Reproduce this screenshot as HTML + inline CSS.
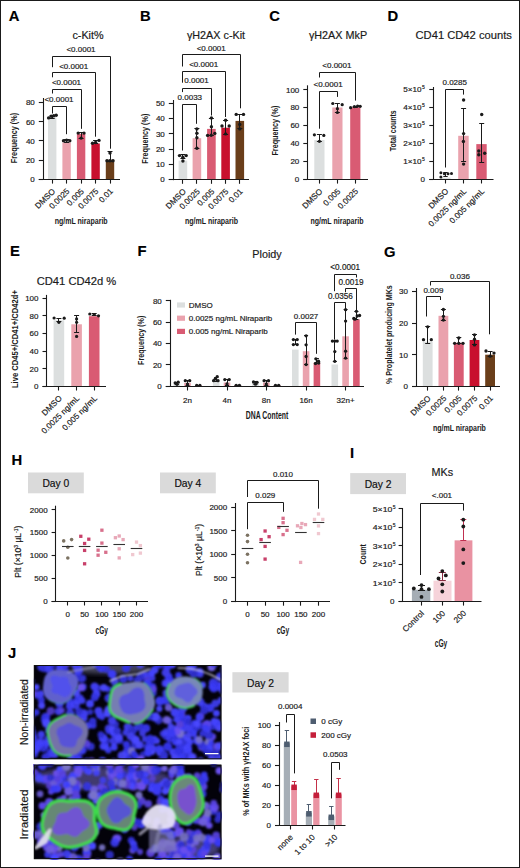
<!DOCTYPE html>
<html><head><meta charset="utf-8"><style>
html,body{margin:0;padding:0;background:#fff;}
body{width:520px;height:868px;overflow:hidden;}
svg{display:block;font-family:"Liberation Sans",sans-serif;}

</style></head><body>
<svg width="520" height="868" viewBox="0 0 520 868" fill="#1a1a1a">
<defs><filter id="blur1" x="-5%" y="-5%" width="110%" height="110%"><feGaussianBlur stdDeviation="0.9"/></filter><filter id="blur2" x="-10%" y="-10%" width="120%" height="120%"><feGaussianBlur stdDeviation="1.1"/></filter><filter id="blur3" x="-20%" y="-20%" width="140%" height="140%"><feGaussianBlur stdDeviation="2.5"/></filter></defs>
<rect x="0" y="0" width="520" height="868" fill="#fff"/>
<text x="8.70" y="21.39" font-size="14.8" font-weight="bold" fill="#000" stroke="#000" stroke-width="0.15">A</text>
<text x="88.00" y="39.39" font-size="10.8" text-anchor="middle" stroke="#1a1a1a" stroke-width="0.18">c-Kit%</text>
<rect x="48.00" y="117.20" width="8.40" height="62.20" fill="#dcdfdf"/>
<rect x="62.40" y="142.50" width="8.40" height="36.90" fill="#eaa2ad"/>
<rect x="76.90" y="133.80" width="8.40" height="45.60" fill="#d95b73"/>
<rect x="91.40" y="143.50" width="8.40" height="35.90" fill="#c8102e"/>
<rect x="105.80" y="159.80" width="8.40" height="19.60" fill="#6a3e1a"/>
<line x1="52.50" y1="118.50" x2="52.50" y2="115.50" stroke="#1a1a1a" stroke-width="1.0"/>
<line x1="49.70" y1="115.50" x2="54.70" y2="115.50" stroke="#1a1a1a" stroke-width="1.0"/>
<line x1="49.70" y1="118.50" x2="54.70" y2="118.50" stroke="#1a1a1a" stroke-width="1.0"/>
<circle cx="48.60" cy="117.90" r="1.7" fill="#1a1a1a"/>
<circle cx="51.20" cy="116.30" r="1.7" fill="#1a1a1a"/>
<circle cx="53.80" cy="115.70" r="1.7" fill="#1a1a1a"/>
<circle cx="56.20" cy="115.20" r="1.7" fill="#1a1a1a"/>
<line x1="66.50" y1="142.50" x2="66.50" y2="139.50" stroke="#1a1a1a" stroke-width="1.0"/>
<line x1="64.10" y1="139.50" x2="69.10" y2="139.50" stroke="#1a1a1a" stroke-width="1.0"/>
<line x1="64.10" y1="142.50" x2="69.10" y2="142.50" stroke="#1a1a1a" stroke-width="1.0"/>
<circle cx="63.50" cy="140.80" r="1.7" fill="#1a1a1a"/>
<circle cx="66.60" cy="140.20" r="1.7" fill="#1a1a1a"/>
<circle cx="69.80" cy="140.80" r="1.7" fill="#1a1a1a"/>
<line x1="81.50" y1="138.00" x2="81.50" y2="132.00" stroke="#1a1a1a" stroke-width="1.0"/>
<line x1="78.60" y1="132.50" x2="83.60" y2="132.50" stroke="#1a1a1a" stroke-width="1.0"/>
<line x1="78.60" y1="138.50" x2="83.60" y2="138.50" stroke="#1a1a1a" stroke-width="1.0"/>
<circle cx="78.20" cy="133.10" r="1.7" fill="#1a1a1a"/>
<circle cx="84.00" cy="133.10" r="1.7" fill="#1a1a1a"/>
<circle cx="81.10" cy="138.10" r="1.7" fill="#1a1a1a"/>
<line x1="95.50" y1="143.50" x2="95.50" y2="140.30" stroke="#1a1a1a" stroke-width="1.0"/>
<line x1="93.10" y1="140.50" x2="98.10" y2="140.50" stroke="#1a1a1a" stroke-width="1.0"/>
<line x1="93.10" y1="143.50" x2="98.10" y2="143.50" stroke="#1a1a1a" stroke-width="1.0"/>
<circle cx="92.50" cy="143.30" r="1.7" fill="#1a1a1a"/>
<circle cx="95.60" cy="142.50" r="1.7" fill="#1a1a1a"/>
<circle cx="99.00" cy="140.40" r="1.7" fill="#1a1a1a"/>
<line x1="110.50" y1="161.00" x2="110.50" y2="151.80" stroke="#1a1a1a" stroke-width="1.0"/>
<line x1="107.50" y1="151.50" x2="112.50" y2="151.50" stroke="#1a1a1a" stroke-width="1.0"/>
<line x1="107.50" y1="161.50" x2="112.50" y2="161.50" stroke="#1a1a1a" stroke-width="1.0"/>
<circle cx="110.00" cy="153.00" r="1.7" fill="#1a1a1a"/>
<circle cx="107.00" cy="160.80" r="1.7" fill="#1a1a1a"/>
<circle cx="110.00" cy="160.80" r="1.7" fill="#1a1a1a"/>
<circle cx="113.00" cy="160.80" r="1.7" fill="#1a1a1a"/>
<line x1="43.50" y1="98.00" x2="43.50" y2="180.00" stroke="#1a1a1a" stroke-width="1.1"/>
<line x1="38.80" y1="179.50" x2="43.00" y2="179.50" stroke="#1a1a1a" stroke-width="1.1"/>
<text x="34.80" y="182.28" font-size="8" text-anchor="end" stroke="#1a1a1a" stroke-width="0.18">0</text>
<line x1="38.80" y1="160.50" x2="43.00" y2="160.50" stroke="#1a1a1a" stroke-width="1.1"/>
<text x="34.80" y="163.03" font-size="8" text-anchor="end" stroke="#1a1a1a" stroke-width="0.18">20</text>
<line x1="38.80" y1="140.50" x2="43.00" y2="140.50" stroke="#1a1a1a" stroke-width="1.1"/>
<text x="34.80" y="143.78" font-size="8" text-anchor="end" stroke="#1a1a1a" stroke-width="0.18">40</text>
<line x1="38.80" y1="121.50" x2="43.00" y2="121.50" stroke="#1a1a1a" stroke-width="1.1"/>
<text x="34.80" y="124.53" font-size="8" text-anchor="end" stroke="#1a1a1a" stroke-width="0.18">60</text>
<line x1="38.80" y1="102.50" x2="43.00" y2="102.50" stroke="#1a1a1a" stroke-width="1.1"/>
<text x="34.80" y="105.28" font-size="8" text-anchor="end" stroke="#1a1a1a" stroke-width="0.18">80</text>
<line x1="38.80" y1="179.50" x2="120.00" y2="179.50" stroke="#1a1a1a" stroke-width="1.1"/>
<line x1="52.50" y1="179.40" x2="52.50" y2="183.60" stroke="#1a1a1a" stroke-width="1.1"/>
<line x1="66.50" y1="179.40" x2="66.50" y2="183.60" stroke="#1a1a1a" stroke-width="1.1"/>
<line x1="81.50" y1="179.40" x2="81.50" y2="183.60" stroke="#1a1a1a" stroke-width="1.1"/>
<line x1="95.50" y1="179.40" x2="95.50" y2="183.60" stroke="#1a1a1a" stroke-width="1.1"/>
<line x1="110.50" y1="179.40" x2="110.50" y2="183.60" stroke="#1a1a1a" stroke-width="1.1"/>
<text x="55.70" y="191.90" font-size="8.2" text-anchor="end" transform="rotate(-45 55.70 191.90)" stroke="#1a1a1a" stroke-width="0.18">DMSO</text>
<text x="70.10" y="191.90" font-size="8.2" text-anchor="end" transform="rotate(-45 70.10 191.90)" stroke="#1a1a1a" stroke-width="0.18">0.0025</text>
<text x="84.60" y="191.90" font-size="8.2" text-anchor="end" transform="rotate(-45 84.60 191.90)" stroke="#1a1a1a" stroke-width="0.18">0.005</text>
<text x="99.10" y="191.90" font-size="8.2" text-anchor="end" transform="rotate(-45 99.10 191.90)" stroke="#1a1a1a" stroke-width="0.18">0.0075</text>
<text x="113.50" y="191.90" font-size="8.2" text-anchor="end" transform="rotate(-45 113.50 191.90)" stroke="#1a1a1a" stroke-width="0.18">0.01</text>
<text x="81.15" y="224.10" font-size="9.2" text-anchor="middle" font-weight="bold" textLength="53.00" lengthAdjust="spacingAndGlyphs">ng/mL niraparib</text>
<text x="17.42" y="138.00" font-size="9.5" text-anchor="middle" font-weight="bold" transform="rotate(-90 17.42 138.00)" textLength="50.50" lengthAdjust="spacingAndGlyphs">Frequency (%)</text>
<polyline points="52.50,67.20 52.50,56.50 110.50,56.50 110.50,148.70" fill="none" stroke="#1a1a1a" stroke-width="1.0"/>
<text x="81.00" y="51.70" font-size="8" text-anchor="middle" stroke="#1a1a1a" stroke-width="0.18">&lt;0.0001</text>
<polyline points="52.50,77.30 52.50,72.50 95.50,72.50 95.50,136.70" fill="none" stroke="#1a1a1a" stroke-width="1.0"/>
<text x="73.70" y="68.60" font-size="8" text-anchor="middle" stroke="#1a1a1a" stroke-width="0.18">&lt;0.0001</text>
<polyline points="52.50,93.50 52.50,89.50 81.50,89.50 81.50,128.80" fill="none" stroke="#1a1a1a" stroke-width="1.0"/>
<text x="66.50" y="85.20" font-size="8" text-anchor="middle" stroke="#1a1a1a" stroke-width="0.18">&lt;0.0001</text>
<polyline points="52.50,113.50 52.50,106.50 66.50,106.50 66.50,134.20" fill="none" stroke="#1a1a1a" stroke-width="1.0"/>
<text x="59.00" y="102.20" font-size="8" text-anchor="middle" stroke="#1a1a1a" stroke-width="0.18">&lt;0.0001</text>
<text x="140.10" y="21.39" font-size="14.8" font-weight="bold" fill="#000" stroke="#000" stroke-width="0.15">B</text>
<text x="216.00" y="39.39" font-size="10.8" text-anchor="middle" stroke="#1a1a1a" stroke-width="0.18">γH2AX c-Kit</text>
<rect x="178.60" y="160.60" width="8.60" height="19.00" fill="#dcdfdf"/>
<rect x="192.60" y="138.20" width="8.60" height="41.40" fill="#eaa2ad"/>
<rect x="207.10" y="128.90" width="8.60" height="50.70" fill="#d95b73"/>
<rect x="221.30" y="127.70" width="8.60" height="51.90" fill="#c8102e"/>
<rect x="235.50" y="120.90" width="8.60" height="58.70" fill="#6a3e1a"/>
<line x1="182.50" y1="158.50" x2="182.50" y2="154.80" stroke="#1a1a1a" stroke-width="1.0"/>
<line x1="180.40" y1="154.50" x2="185.40" y2="154.50" stroke="#1a1a1a" stroke-width="1.0"/>
<line x1="180.40" y1="158.50" x2="185.40" y2="158.50" stroke="#1a1a1a" stroke-width="1.0"/>
<circle cx="179.50" cy="155.60" r="1.7" fill="#1a1a1a"/>
<circle cx="186.20" cy="155.60" r="1.7" fill="#1a1a1a"/>
<circle cx="182.90" cy="157.20" r="1.7" fill="#1a1a1a"/>
<circle cx="182.90" cy="161.00" r="1.7" fill="#1a1a1a"/>
<line x1="196.50" y1="148.30" x2="196.50" y2="128.50" stroke="#1a1a1a" stroke-width="1.0"/>
<line x1="194.40" y1="128.50" x2="199.40" y2="128.50" stroke="#1a1a1a" stroke-width="1.0"/>
<line x1="194.40" y1="148.50" x2="199.40" y2="148.50" stroke="#1a1a1a" stroke-width="1.0"/>
<circle cx="196.90" cy="129.00" r="1.7" fill="#1a1a1a"/>
<circle cx="196.90" cy="133.20" r="1.7" fill="#1a1a1a"/>
<circle cx="196.90" cy="137.80" r="1.7" fill="#1a1a1a"/>
<circle cx="196.90" cy="148.30" r="1.7" fill="#1a1a1a"/>
<line x1="211.50" y1="135.00" x2="211.50" y2="118.00" stroke="#1a1a1a" stroke-width="1.0"/>
<line x1="208.90" y1="118.50" x2="213.90" y2="118.50" stroke="#1a1a1a" stroke-width="1.0"/>
<line x1="208.90" y1="135.50" x2="213.90" y2="135.50" stroke="#1a1a1a" stroke-width="1.0"/>
<circle cx="211.40" cy="118.00" r="1.7" fill="#1a1a1a"/>
<circle cx="211.40" cy="126.70" r="1.7" fill="#1a1a1a"/>
<circle cx="207.60" cy="135.40" r="1.7" fill="#1a1a1a"/>
<circle cx="214.80" cy="133.40" r="1.7" fill="#1a1a1a"/>
<circle cx="211.20" cy="135.20" r="1.7" fill="#1a1a1a"/>
<line x1="225.50" y1="134.00" x2="225.50" y2="120.20" stroke="#1a1a1a" stroke-width="1.0"/>
<line x1="223.10" y1="120.50" x2="228.10" y2="120.50" stroke="#1a1a1a" stroke-width="1.0"/>
<line x1="223.10" y1="134.50" x2="228.10" y2="134.50" stroke="#1a1a1a" stroke-width="1.0"/>
<circle cx="225.60" cy="120.20" r="1.7" fill="#1a1a1a"/>
<circle cx="222.00" cy="126.00" r="1.7" fill="#1a1a1a"/>
<circle cx="229.20" cy="126.00" r="1.7" fill="#1a1a1a"/>
<circle cx="225.60" cy="133.90" r="1.7" fill="#1a1a1a"/>
<line x1="239.50" y1="128.90" x2="239.50" y2="114.20" stroke="#1a1a1a" stroke-width="1.0"/>
<line x1="237.30" y1="114.50" x2="242.30" y2="114.50" stroke="#1a1a1a" stroke-width="1.0"/>
<line x1="237.30" y1="128.50" x2="242.30" y2="128.50" stroke="#1a1a1a" stroke-width="1.0"/>
<circle cx="236.20" cy="114.40" r="1.7" fill="#1a1a1a"/>
<circle cx="243.50" cy="114.40" r="1.7" fill="#1a1a1a"/>
<circle cx="239.80" cy="124.50" r="1.7" fill="#1a1a1a"/>
<circle cx="239.80" cy="128.90" r="1.7" fill="#1a1a1a"/>
<line x1="173.50" y1="100.00" x2="173.50" y2="180.20" stroke="#1a1a1a" stroke-width="1.1"/>
<line x1="168.80" y1="179.50" x2="173.00" y2="179.50" stroke="#1a1a1a" stroke-width="1.1"/>
<text x="164.80" y="182.48" font-size="8" text-anchor="end" stroke="#1a1a1a" stroke-width="0.18">0</text>
<line x1="168.80" y1="164.50" x2="173.00" y2="164.50" stroke="#1a1a1a" stroke-width="1.1"/>
<text x="164.80" y="167.18" font-size="8" text-anchor="end" stroke="#1a1a1a" stroke-width="0.18">10</text>
<line x1="168.80" y1="149.50" x2="173.00" y2="149.50" stroke="#1a1a1a" stroke-width="1.1"/>
<text x="164.80" y="151.88" font-size="8" text-anchor="end" stroke="#1a1a1a" stroke-width="0.18">20</text>
<line x1="168.80" y1="133.50" x2="173.00" y2="133.50" stroke="#1a1a1a" stroke-width="1.1"/>
<text x="164.80" y="136.58" font-size="8" text-anchor="end" stroke="#1a1a1a" stroke-width="0.18">30</text>
<line x1="168.80" y1="118.50" x2="173.00" y2="118.50" stroke="#1a1a1a" stroke-width="1.1"/>
<text x="164.80" y="121.28" font-size="8" text-anchor="end" stroke="#1a1a1a" stroke-width="0.18">40</text>
<line x1="168.80" y1="103.50" x2="173.00" y2="103.50" stroke="#1a1a1a" stroke-width="1.1"/>
<text x="164.80" y="105.98" font-size="8" text-anchor="end" stroke="#1a1a1a" stroke-width="0.18">50</text>
<line x1="168.80" y1="179.50" x2="249.00" y2="179.50" stroke="#1a1a1a" stroke-width="1.1"/>
<line x1="182.50" y1="179.60" x2="182.50" y2="183.80" stroke="#1a1a1a" stroke-width="1.1"/>
<line x1="196.50" y1="179.60" x2="196.50" y2="183.80" stroke="#1a1a1a" stroke-width="1.1"/>
<line x1="211.50" y1="179.60" x2="211.50" y2="183.80" stroke="#1a1a1a" stroke-width="1.1"/>
<line x1="225.50" y1="179.60" x2="225.50" y2="183.80" stroke="#1a1a1a" stroke-width="1.1"/>
<line x1="239.50" y1="179.60" x2="239.50" y2="183.80" stroke="#1a1a1a" stroke-width="1.1"/>
<text x="186.40" y="192.10" font-size="8.2" text-anchor="end" transform="rotate(-45 186.40 192.10)" stroke="#1a1a1a" stroke-width="0.18">DMSO</text>
<text x="200.40" y="192.10" font-size="8.2" text-anchor="end" transform="rotate(-45 200.40 192.10)" stroke="#1a1a1a" stroke-width="0.18">0.0025</text>
<text x="214.90" y="192.10" font-size="8.2" text-anchor="end" transform="rotate(-45 214.90 192.10)" stroke="#1a1a1a" stroke-width="0.18">0.005</text>
<text x="229.10" y="192.10" font-size="8.2" text-anchor="end" transform="rotate(-45 229.10 192.10)" stroke="#1a1a1a" stroke-width="0.18">0.0075</text>
<text x="243.30" y="192.10" font-size="8.2" text-anchor="end" transform="rotate(-45 243.30 192.10)" stroke="#1a1a1a" stroke-width="0.18">0.01</text>
<text x="211.50" y="224.10" font-size="9.2" text-anchor="middle" font-weight="bold" textLength="53.00" lengthAdjust="spacingAndGlyphs">ng/mL niraparib</text>
<text x="147.52" y="138.70" font-size="9.5" text-anchor="middle" font-weight="bold" transform="rotate(-90 147.52 138.70)" textLength="50.20" lengthAdjust="spacingAndGlyphs">Frequency (%)</text>
<polyline points="182.50,66.50 182.50,54.50 240.50,54.50 240.50,108.30" fill="none" stroke="#1a1a1a" stroke-width="1.0"/>
<text x="211.20" y="51.00" font-size="8" text-anchor="middle" stroke="#1a1a1a" stroke-width="0.18">&lt;0.0001</text>
<polyline points="182.50,82.70 182.50,71.50 225.50,71.50 225.50,117.00" fill="none" stroke="#1a1a1a" stroke-width="1.0"/>
<text x="203.70" y="67.20" font-size="8" text-anchor="middle" stroke="#1a1a1a" stroke-width="0.18">&lt;0.0001</text>
<polyline points="182.50,92.10 182.50,88.50 211.50,88.50 211.50,115.50" fill="none" stroke="#1a1a1a" stroke-width="1.0"/>
<text x="196.50" y="83.40" font-size="8" text-anchor="middle" stroke="#1a1a1a" stroke-width="0.18">0.0001</text>
<polyline points="182.50,150.50 182.50,104.50 196.50,104.50 196.50,123.80" fill="none" stroke="#1a1a1a" stroke-width="1.0"/>
<text x="189.80" y="100.20" font-size="8" text-anchor="middle" stroke="#1a1a1a" stroke-width="0.18">0.0033</text>
<text x="269.30" y="20.89" font-size="14.8" font-weight="bold" fill="#000" stroke="#000" stroke-width="0.15">C</text>
<text x="338.00" y="39.39" font-size="10.8" text-anchor="middle" stroke="#1a1a1a" stroke-width="0.18">γH2AX MkP</text>
<rect x="314.30" y="140.00" width="10.20" height="39.40" fill="#dcdfdf"/>
<rect x="332.30" y="107.50" width="10.20" height="71.90" fill="#eaa2ad"/>
<rect x="350.20" y="107.30" width="10.20" height="72.10" fill="#d95b73"/>
<line x1="319.50" y1="141.30" x2="319.50" y2="134.60" stroke="#1a1a1a" stroke-width="1.0"/>
<line x1="316.90" y1="134.50" x2="321.90" y2="134.50" stroke="#1a1a1a" stroke-width="1.0"/>
<line x1="316.90" y1="141.50" x2="321.90" y2="141.50" stroke="#1a1a1a" stroke-width="1.0"/>
<circle cx="314.40" cy="134.80" r="1.6" fill="#1a1a1a"/>
<circle cx="323.80" cy="135.40" r="1.6" fill="#1a1a1a"/>
<circle cx="319.40" cy="141.30" r="1.6" fill="#1a1a1a"/>
<line x1="337.50" y1="112.50" x2="337.50" y2="103.10" stroke="#1a1a1a" stroke-width="1.0"/>
<line x1="334.90" y1="103.50" x2="339.90" y2="103.50" stroke="#1a1a1a" stroke-width="1.0"/>
<line x1="334.90" y1="112.50" x2="339.90" y2="112.50" stroke="#1a1a1a" stroke-width="1.0"/>
<circle cx="332.80" cy="103.50" r="1.6" fill="#1a1a1a"/>
<circle cx="342.20" cy="104.70" r="1.6" fill="#1a1a1a"/>
<circle cx="337.40" cy="112.50" r="1.6" fill="#1a1a1a"/>
<circle cx="337.40" cy="108.70" r="1.6" fill="#1a1a1a"/>
<line x1="355.50" y1="107.50" x2="355.50" y2="106.30" stroke="#1a1a1a" stroke-width="1.0"/>
<line x1="352.80" y1="106.50" x2="357.80" y2="106.50" stroke="#1a1a1a" stroke-width="1.0"/>
<line x1="352.80" y1="107.50" x2="357.80" y2="107.50" stroke="#1a1a1a" stroke-width="1.0"/>
<circle cx="350.60" cy="107.70" r="1.6" fill="#1a1a1a"/>
<circle cx="354.40" cy="106.60" r="1.6" fill="#1a1a1a"/>
<circle cx="357.60" cy="106.00" r="1.6" fill="#1a1a1a"/>
<circle cx="360.20" cy="106.30" r="1.6" fill="#1a1a1a"/>
<line x1="307.50" y1="85.30" x2="307.50" y2="180.00" stroke="#1a1a1a" stroke-width="1.1"/>
<line x1="303.30" y1="179.50" x2="307.50" y2="179.50" stroke="#1a1a1a" stroke-width="1.1"/>
<text x="299.30" y="182.28" font-size="8" text-anchor="end" stroke="#1a1a1a" stroke-width="0.18">0</text>
<line x1="303.30" y1="161.50" x2="307.50" y2="161.50" stroke="#1a1a1a" stroke-width="1.1"/>
<text x="299.30" y="164.33" font-size="8" text-anchor="end" stroke="#1a1a1a" stroke-width="0.18">20</text>
<line x1="303.30" y1="143.50" x2="307.50" y2="143.50" stroke="#1a1a1a" stroke-width="1.1"/>
<text x="299.30" y="146.38" font-size="8" text-anchor="end" stroke="#1a1a1a" stroke-width="0.18">40</text>
<line x1="303.30" y1="125.50" x2="307.50" y2="125.50" stroke="#1a1a1a" stroke-width="1.1"/>
<text x="299.30" y="128.43" font-size="8" text-anchor="end" stroke="#1a1a1a" stroke-width="0.18">60</text>
<line x1="303.30" y1="107.50" x2="307.50" y2="107.50" stroke="#1a1a1a" stroke-width="1.1"/>
<text x="299.30" y="110.48" font-size="8" text-anchor="end" stroke="#1a1a1a" stroke-width="0.18">80</text>
<line x1="303.30" y1="89.50" x2="307.50" y2="89.50" stroke="#1a1a1a" stroke-width="1.1"/>
<text x="299.30" y="92.53" font-size="8" text-anchor="end" stroke="#1a1a1a" stroke-width="0.18">100</text>
<line x1="303.30" y1="179.50" x2="368.00" y2="179.50" stroke="#1a1a1a" stroke-width="1.1"/>
<line x1="319.50" y1="179.40" x2="319.50" y2="183.60" stroke="#1a1a1a" stroke-width="1.1"/>
<line x1="337.50" y1="179.40" x2="337.50" y2="183.60" stroke="#1a1a1a" stroke-width="1.1"/>
<line x1="355.50" y1="179.40" x2="355.50" y2="183.60" stroke="#1a1a1a" stroke-width="1.1"/>
<text x="322.90" y="191.90" font-size="8.2" text-anchor="end" transform="rotate(-45 322.90 191.90)" stroke="#1a1a1a" stroke-width="0.18">DMSO</text>
<text x="340.90" y="191.90" font-size="8.2" text-anchor="end" transform="rotate(-45 340.90 191.90)" stroke="#1a1a1a" stroke-width="0.18">0.005</text>
<text x="358.80" y="191.90" font-size="8.2" text-anchor="end" transform="rotate(-45 358.80 191.90)" stroke="#1a1a1a" stroke-width="0.18">0.0025</text>
<text x="337.00" y="224.10" font-size="9.2" text-anchor="middle" font-weight="bold" textLength="53.00" lengthAdjust="spacingAndGlyphs">ng/mL niraparib</text>
<text x="277.72" y="130.60" font-size="9.5" text-anchor="middle" font-weight="bold" transform="rotate(-90 277.72 130.60)" textLength="50.00" lengthAdjust="spacingAndGlyphs">Frequency (%)</text>
<polyline points="319.50,77.50 319.50,72.50 355.50,72.50 355.50,100.60" fill="none" stroke="#1a1a1a" stroke-width="1.0"/>
<text x="336.90" y="67.60" font-size="8" text-anchor="middle" stroke="#1a1a1a" stroke-width="0.18">&lt;0.0001</text>
<polyline points="319.50,128.70 319.50,91.50 337.50,91.50 337.50,96.90" fill="none" stroke="#1a1a1a" stroke-width="1.0"/>
<text x="328.10" y="87.00" font-size="8" text-anchor="middle" stroke="#1a1a1a" stroke-width="0.18">&lt;0.0001</text>
<text x="387.50" y="21.39" font-size="14.8" font-weight="bold" fill="#000" stroke="#000" stroke-width="0.15">D</text>
<text x="463.70" y="39.33" font-size="11.2" text-anchor="middle" stroke="#1a1a1a" stroke-width="0.18">CD41 CD42 counts</text>
<rect x="440.50" y="177.60" width="10.00" height="1.70" fill="#dcdfdf"/>
<rect x="458.20" y="135.80" width="10.50" height="43.50" fill="#eaa2ad"/>
<rect x="476.30" y="144.10" width="10.40" height="35.20" fill="#d95b73"/>
<line x1="445.50" y1="176.50" x2="445.50" y2="172.60" stroke="#1a1a1a" stroke-width="1.0"/>
<line x1="443.30" y1="172.50" x2="447.70" y2="172.50" stroke="#1a1a1a" stroke-width="1.0"/>
<line x1="443.30" y1="176.50" x2="447.70" y2="176.50" stroke="#1a1a1a" stroke-width="1.0"/>
<circle cx="440.90" cy="172.80" r="1.5" fill="#1a1a1a"/>
<circle cx="444.40" cy="173.80" r="1.5" fill="#1a1a1a"/>
<circle cx="448.00" cy="173.80" r="1.5" fill="#1a1a1a"/>
<circle cx="451.50" cy="173.40" r="1.5" fill="#1a1a1a"/>
<circle cx="440.90" cy="177.00" r="1.5" fill="#1a1a1a"/>
<line x1="463.50" y1="161.40" x2="463.50" y2="108.20" stroke="#1a1a1a" stroke-width="1.0"/>
<line x1="461.10" y1="108.50" x2="466.10" y2="108.50" stroke="#1a1a1a" stroke-width="1.0"/>
<line x1="461.10" y1="161.50" x2="466.10" y2="161.50" stroke="#1a1a1a" stroke-width="1.0"/>
<circle cx="463.60" cy="100.00" r="1.7" fill="#1a1a1a"/>
<circle cx="463.60" cy="133.60" r="1.7" fill="#1a1a1a"/>
<circle cx="463.40" cy="141.50" r="1.7" fill="#1a1a1a"/>
<circle cx="463.60" cy="164.10" r="1.7" fill="#1a1a1a"/>
<line x1="481.50" y1="162.50" x2="481.50" y2="123.80" stroke="#1a1a1a" stroke-width="1.0"/>
<line x1="479.20" y1="123.50" x2="484.20" y2="123.50" stroke="#1a1a1a" stroke-width="1.0"/>
<line x1="479.20" y1="162.50" x2="484.20" y2="162.50" stroke="#1a1a1a" stroke-width="1.0"/>
<circle cx="481.70" cy="114.50" r="1.7" fill="#1a1a1a"/>
<circle cx="478.80" cy="151.00" r="1.7" fill="#1a1a1a"/>
<circle cx="478.80" cy="154.80" r="1.7" fill="#1a1a1a"/>
<circle cx="484.70" cy="153.20" r="1.7" fill="#1a1a1a"/>
<line x1="433.50" y1="87.00" x2="433.50" y2="179.90" stroke="#1a1a1a" stroke-width="1.1"/>
<line x1="429.30" y1="179.50" x2="433.50" y2="179.50" stroke="#1a1a1a" stroke-width="1.1"/>
<line x1="429.30" y1="161.50" x2="433.50" y2="161.50" stroke="#1a1a1a" stroke-width="1.1"/>
<line x1="429.30" y1="143.50" x2="433.50" y2="143.50" stroke="#1a1a1a" stroke-width="1.1"/>
<line x1="429.30" y1="125.50" x2="433.50" y2="125.50" stroke="#1a1a1a" stroke-width="1.1"/>
<line x1="429.30" y1="107.50" x2="433.50" y2="107.50" stroke="#1a1a1a" stroke-width="1.1"/>
<line x1="429.30" y1="89.50" x2="433.50" y2="89.50" stroke="#1a1a1a" stroke-width="1.1"/>
<text x="421.50" y="164.10" font-size="7.8" text-anchor="end" textLength="18.30" lengthAdjust="spacingAndGlyphs" stroke="#1a1a1a" stroke-width="0.18">1×10</text>
<text x="421.90" y="160.90" font-size="5" text-anchor="start" stroke="#1a1a1a" stroke-width="0.18">5</text>
<text x="421.50" y="146.10" font-size="7.8" text-anchor="end" textLength="18.30" lengthAdjust="spacingAndGlyphs" stroke="#1a1a1a" stroke-width="0.18">2×10</text>
<text x="421.90" y="142.90" font-size="5" text-anchor="start" stroke="#1a1a1a" stroke-width="0.18">5</text>
<text x="421.50" y="128.10" font-size="7.8" text-anchor="end" textLength="18.30" lengthAdjust="spacingAndGlyphs" stroke="#1a1a1a" stroke-width="0.18">3×10</text>
<text x="421.90" y="124.90" font-size="5" text-anchor="start" stroke="#1a1a1a" stroke-width="0.18">5</text>
<text x="421.50" y="110.10" font-size="7.8" text-anchor="end" textLength="18.30" lengthAdjust="spacingAndGlyphs" stroke="#1a1a1a" stroke-width="0.18">4×10</text>
<text x="421.90" y="106.90" font-size="5" text-anchor="start" stroke="#1a1a1a" stroke-width="0.18">5</text>
<text x="421.50" y="92.10" font-size="7.8" text-anchor="end" textLength="18.30" lengthAdjust="spacingAndGlyphs" stroke="#1a1a1a" stroke-width="0.18">5×10</text>
<text x="421.90" y="88.90" font-size="5" text-anchor="start" stroke="#1a1a1a" stroke-width="0.18">5</text>
<text x="425.00" y="182.20" font-size="8" text-anchor="end" stroke="#1a1a1a" stroke-width="0.18">0</text>
<line x1="429.30" y1="179.50" x2="493.50" y2="179.50" stroke="#1a1a1a" stroke-width="1.1"/>
<line x1="445.50" y1="179.30" x2="445.50" y2="183.50" stroke="#1a1a1a" stroke-width="1.1"/>
<line x1="463.50" y1="179.30" x2="463.50" y2="183.50" stroke="#1a1a1a" stroke-width="1.1"/>
<line x1="481.50" y1="179.30" x2="481.50" y2="183.50" stroke="#1a1a1a" stroke-width="1.1"/>
<text x="449.00" y="191.80" font-size="8.2" text-anchor="end" transform="rotate(-45 449.00 191.80)" stroke="#1a1a1a" stroke-width="0.18">DMSO</text>
<text x="467.10" y="191.80" font-size="8.2" text-anchor="end" transform="rotate(-45 467.10 191.80)" stroke="#1a1a1a" stroke-width="0.18">0.0025 ng/mL</text>
<text x="485.00" y="191.80" font-size="8.2" text-anchor="end" transform="rotate(-45 485.00 191.80)" stroke="#1a1a1a" stroke-width="0.18">0.005 ng/mL</text>
<text x="396.42" y="130.80" font-size="9.5" text-anchor="middle" font-weight="bold" transform="rotate(-90 396.42 130.80)" textLength="41.00" lengthAdjust="spacingAndGlyphs">Total counts</text>
<polyline points="445.50,167.50 445.50,89.50 463.50,89.50 463.50,94.60" fill="none" stroke="#1a1a1a" stroke-width="1.0"/>
<text x="454.70" y="84.50" font-size="8" text-anchor="middle" stroke="#1a1a1a" stroke-width="0.18">0.0285</text>
<text x="10.10" y="256.39" font-size="14.8" font-weight="bold" fill="#000" stroke="#000" stroke-width="0.15">E</text>
<text x="76.50" y="285.03" font-size="11.2" text-anchor="middle" stroke="#1a1a1a" stroke-width="0.18">CD41 CD42d %</text>
<rect x="53.60" y="320.30" width="10.60" height="66.00" fill="#dcdfdf"/>
<rect x="71.30" y="324.30" width="10.60" height="62.00" fill="#eaa2ad"/>
<rect x="88.90" y="316.20" width="10.60" height="70.10" fill="#d95b73"/>
<line x1="58.50" y1="321.50" x2="58.50" y2="318.30" stroke="#1a1a1a" stroke-width="1.0"/>
<line x1="56.40" y1="318.50" x2="61.40" y2="318.50" stroke="#1a1a1a" stroke-width="1.0"/>
<line x1="56.40" y1="321.50" x2="61.40" y2="321.50" stroke="#1a1a1a" stroke-width="1.0"/>
<circle cx="54.10" cy="318.00" r="1.6" fill="#1a1a1a"/>
<circle cx="64.20" cy="318.20" r="1.6" fill="#1a1a1a"/>
<circle cx="58.90" cy="322.30" r="1.6" fill="#1a1a1a"/>
<line x1="76.50" y1="332.40" x2="76.50" y2="315.30" stroke="#1a1a1a" stroke-width="1.0"/>
<line x1="74.10" y1="315.50" x2="79.10" y2="315.50" stroke="#1a1a1a" stroke-width="1.0"/>
<line x1="74.10" y1="332.50" x2="79.10" y2="332.50" stroke="#1a1a1a" stroke-width="1.0"/>
<circle cx="76.60" cy="318.90" r="1.6" fill="#1a1a1a"/>
<circle cx="76.60" cy="322.30" r="1.6" fill="#1a1a1a"/>
<circle cx="76.60" cy="336.40" r="1.6" fill="#1a1a1a"/>
<line x1="94.50" y1="315.50" x2="94.50" y2="313.60" stroke="#1a1a1a" stroke-width="1.0"/>
<line x1="91.70" y1="313.50" x2="96.70" y2="313.50" stroke="#1a1a1a" stroke-width="1.0"/>
<line x1="91.70" y1="315.50" x2="96.70" y2="315.50" stroke="#1a1a1a" stroke-width="1.0"/>
<circle cx="89.80" cy="314.00" r="1.6" fill="#1a1a1a"/>
<circle cx="94.20" cy="314.50" r="1.6" fill="#1a1a1a"/>
<circle cx="98.50" cy="315.80" r="1.6" fill="#1a1a1a"/>
<line x1="46.50" y1="294.90" x2="46.50" y2="386.90" stroke="#1a1a1a" stroke-width="1.1"/>
<line x1="42.50" y1="386.50" x2="46.70" y2="386.50" stroke="#1a1a1a" stroke-width="1.1"/>
<text x="38.50" y="389.18" font-size="8" text-anchor="end" stroke="#1a1a1a" stroke-width="0.18">0</text>
<line x1="42.50" y1="368.50" x2="46.70" y2="368.50" stroke="#1a1a1a" stroke-width="1.1"/>
<text x="38.50" y="371.59" font-size="8" text-anchor="end" stroke="#1a1a1a" stroke-width="0.18">20</text>
<line x1="42.50" y1="351.50" x2="46.70" y2="351.50" stroke="#1a1a1a" stroke-width="1.1"/>
<text x="38.50" y="354.00" font-size="8" text-anchor="end" stroke="#1a1a1a" stroke-width="0.18">40</text>
<line x1="42.50" y1="333.50" x2="46.70" y2="333.50" stroke="#1a1a1a" stroke-width="1.1"/>
<text x="38.50" y="336.41" font-size="8" text-anchor="end" stroke="#1a1a1a" stroke-width="0.18">60</text>
<line x1="42.50" y1="315.50" x2="46.70" y2="315.50" stroke="#1a1a1a" stroke-width="1.1"/>
<text x="38.50" y="318.82" font-size="8" text-anchor="end" stroke="#1a1a1a" stroke-width="0.18">80</text>
<line x1="42.50" y1="298.50" x2="46.70" y2="298.50" stroke="#1a1a1a" stroke-width="1.1"/>
<text x="38.50" y="301.23" font-size="8" text-anchor="end" stroke="#1a1a1a" stroke-width="0.18">100</text>
<line x1="42.50" y1="386.50" x2="106.00" y2="386.50" stroke="#1a1a1a" stroke-width="1.1"/>
<line x1="58.50" y1="386.30" x2="58.50" y2="390.50" stroke="#1a1a1a" stroke-width="1.1"/>
<line x1="76.50" y1="386.30" x2="76.50" y2="390.50" stroke="#1a1a1a" stroke-width="1.1"/>
<line x1="94.50" y1="386.30" x2="94.50" y2="390.50" stroke="#1a1a1a" stroke-width="1.1"/>
<text x="62.40" y="398.80" font-size="8.2" text-anchor="end" transform="rotate(-45 62.40 398.80)" stroke="#1a1a1a" stroke-width="0.18">DMSO</text>
<text x="80.10" y="398.80" font-size="8.2" text-anchor="end" transform="rotate(-45 80.10 398.80)" stroke="#1a1a1a" stroke-width="0.18">0.0025 ng/mL</text>
<text x="97.70" y="398.80" font-size="8.2" text-anchor="end" transform="rotate(-45 97.70 398.80)" stroke="#1a1a1a" stroke-width="0.18">0.005 ng/mL</text>
<text x="17.62" y="339.10" font-size="9.5" text-anchor="middle" font-weight="bold" transform="rotate(-90 17.62 339.10)" textLength="98.00" lengthAdjust="spacingAndGlyphs">Live CD45+/CD41+/CD42d+</text>
<text x="137.50" y="256.39" font-size="14.8" font-weight="bold" fill="#000" stroke="#000" stroke-width="0.15">F</text>
<text x="267.00" y="257.69" font-size="10.8" text-anchor="middle" stroke="#1a1a1a" stroke-width="0.18">Ploidy</text>
<line x1="170.50" y1="299.80" x2="170.50" y2="386.90" stroke="#1a1a1a" stroke-width="1.1"/>
<line x1="165.80" y1="386.50" x2="170.00" y2="386.50" stroke="#1a1a1a" stroke-width="1.1"/>
<text x="161.80" y="389.18" font-size="8" text-anchor="end" stroke="#1a1a1a" stroke-width="0.18">0</text>
<line x1="165.80" y1="364.50" x2="170.00" y2="364.50" stroke="#1a1a1a" stroke-width="1.1"/>
<text x="161.80" y="367.78" font-size="8" text-anchor="end" stroke="#1a1a1a" stroke-width="0.18">20</text>
<line x1="165.80" y1="343.50" x2="170.00" y2="343.50" stroke="#1a1a1a" stroke-width="1.1"/>
<text x="161.80" y="346.38" font-size="8" text-anchor="end" stroke="#1a1a1a" stroke-width="0.18">40</text>
<line x1="165.80" y1="322.50" x2="170.00" y2="322.50" stroke="#1a1a1a" stroke-width="1.1"/>
<text x="161.80" y="324.98" font-size="8" text-anchor="end" stroke="#1a1a1a" stroke-width="0.18">60</text>
<line x1="165.80" y1="300.50" x2="170.00" y2="300.50" stroke="#1a1a1a" stroke-width="1.1"/>
<text x="161.80" y="303.58" font-size="8" text-anchor="end" stroke="#1a1a1a" stroke-width="0.18">80</text>
<rect x="173.40" y="383.50" width="6.60" height="2.80" fill="#dcdfdf"/>
<rect x="184.20" y="383.00" width="6.60" height="3.30" fill="#eaa2ad"/>
<rect x="195.00" y="385.30" width="6.60" height="1.00" fill="#d95b73"/>
<rect x="212.90" y="379.50" width="6.60" height="6.80" fill="#dcdfdf"/>
<rect x="223.70" y="382.50" width="6.60" height="3.80" fill="#eaa2ad"/>
<rect x="234.50" y="385.00" width="6.60" height="1.30" fill="#d95b73"/>
<rect x="252.20" y="382.50" width="6.60" height="3.80" fill="#dcdfdf"/>
<rect x="263.00" y="382.50" width="6.60" height="3.80" fill="#eaa2ad"/>
<rect x="273.80" y="385.20" width="6.60" height="1.10" fill="#d95b73"/>
<rect x="292.00" y="349.60" width="6.60" height="36.70" fill="#dcdfdf"/>
<rect x="302.80" y="351.20" width="6.60" height="35.10" fill="#eaa2ad"/>
<rect x="313.60" y="362.70" width="6.60" height="23.60" fill="#d95b73"/>
<rect x="331.50" y="364.50" width="6.60" height="21.80" fill="#dcdfdf"/>
<rect x="342.30" y="336.30" width="6.60" height="50.00" fill="#eaa2ad"/>
<rect x="353.10" y="319.40" width="6.60" height="66.90" fill="#d95b73"/>
<line x1="176.50" y1="384.50" x2="176.50" y2="382.00" stroke="#1a1a1a" stroke-width="1.0"/>
<line x1="174.70" y1="382.50" x2="178.70" y2="382.50" stroke="#1a1a1a" stroke-width="1.0"/>
<line x1="174.70" y1="384.50" x2="178.70" y2="384.50" stroke="#1a1a1a" stroke-width="1.0"/>
<line x1="187.50" y1="385.50" x2="187.50" y2="380.70" stroke="#1a1a1a" stroke-width="1.0"/>
<line x1="185.50" y1="380.50" x2="189.50" y2="380.50" stroke="#1a1a1a" stroke-width="1.0"/>
<line x1="185.50" y1="385.50" x2="189.50" y2="385.50" stroke="#1a1a1a" stroke-width="1.0"/>
<line x1="198.50" y1="386.00" x2="198.50" y2="385.00" stroke="#1a1a1a" stroke-width="1.0"/>
<line x1="196.30" y1="385.50" x2="200.30" y2="385.50" stroke="#1a1a1a" stroke-width="1.0"/>
<line x1="196.30" y1="386.50" x2="200.30" y2="386.50" stroke="#1a1a1a" stroke-width="1.0"/>
<line x1="216.50" y1="381.00" x2="216.50" y2="377.00" stroke="#1a1a1a" stroke-width="1.0"/>
<line x1="214.20" y1="377.50" x2="218.20" y2="377.50" stroke="#1a1a1a" stroke-width="1.0"/>
<line x1="214.20" y1="381.50" x2="218.20" y2="381.50" stroke="#1a1a1a" stroke-width="1.0"/>
<line x1="227.50" y1="385.50" x2="227.50" y2="379.60" stroke="#1a1a1a" stroke-width="1.0"/>
<line x1="225.00" y1="379.50" x2="229.00" y2="379.50" stroke="#1a1a1a" stroke-width="1.0"/>
<line x1="225.00" y1="385.50" x2="229.00" y2="385.50" stroke="#1a1a1a" stroke-width="1.0"/>
<line x1="237.50" y1="386.00" x2="237.50" y2="385.00" stroke="#1a1a1a" stroke-width="1.0"/>
<line x1="235.80" y1="385.50" x2="239.80" y2="385.50" stroke="#1a1a1a" stroke-width="1.0"/>
<line x1="235.80" y1="386.50" x2="239.80" y2="386.50" stroke="#1a1a1a" stroke-width="1.0"/>
<line x1="255.50" y1="384.00" x2="255.50" y2="381.50" stroke="#1a1a1a" stroke-width="1.0"/>
<line x1="253.50" y1="381.50" x2="257.50" y2="381.50" stroke="#1a1a1a" stroke-width="1.0"/>
<line x1="253.50" y1="384.50" x2="257.50" y2="384.50" stroke="#1a1a1a" stroke-width="1.0"/>
<line x1="266.50" y1="385.50" x2="266.50" y2="380.50" stroke="#1a1a1a" stroke-width="1.0"/>
<line x1="264.30" y1="380.50" x2="268.30" y2="380.50" stroke="#1a1a1a" stroke-width="1.0"/>
<line x1="264.30" y1="385.50" x2="268.30" y2="385.50" stroke="#1a1a1a" stroke-width="1.0"/>
<line x1="277.50" y1="386.00" x2="277.50" y2="385.00" stroke="#1a1a1a" stroke-width="1.0"/>
<line x1="275.10" y1="385.50" x2="279.10" y2="385.50" stroke="#1a1a1a" stroke-width="1.0"/>
<line x1="275.10" y1="386.50" x2="279.10" y2="386.50" stroke="#1a1a1a" stroke-width="1.0"/>
<line x1="295.50" y1="344.60" x2="295.50" y2="339.60" stroke="#1a1a1a" stroke-width="1.0"/>
<line x1="293.30" y1="339.50" x2="297.30" y2="339.50" stroke="#1a1a1a" stroke-width="1.0"/>
<line x1="293.30" y1="344.50" x2="297.30" y2="344.50" stroke="#1a1a1a" stroke-width="1.0"/>
<line x1="306.50" y1="364.60" x2="306.50" y2="335.80" stroke="#1a1a1a" stroke-width="1.0"/>
<line x1="304.10" y1="335.50" x2="308.10" y2="335.50" stroke="#1a1a1a" stroke-width="1.0"/>
<line x1="304.10" y1="364.50" x2="308.10" y2="364.50" stroke="#1a1a1a" stroke-width="1.0"/>
<line x1="316.50" y1="363.50" x2="316.50" y2="358.80" stroke="#1a1a1a" stroke-width="1.0"/>
<line x1="314.90" y1="358.50" x2="318.90" y2="358.50" stroke="#1a1a1a" stroke-width="1.0"/>
<line x1="314.90" y1="363.50" x2="318.90" y2="363.50" stroke="#1a1a1a" stroke-width="1.0"/>
<line x1="334.50" y1="361.30" x2="334.50" y2="341.10" stroke="#1a1a1a" stroke-width="1.0"/>
<line x1="332.80" y1="341.50" x2="336.80" y2="341.50" stroke="#1a1a1a" stroke-width="1.0"/>
<line x1="332.80" y1="361.50" x2="336.80" y2="361.50" stroke="#1a1a1a" stroke-width="1.0"/>
<line x1="345.50" y1="358.10" x2="345.50" y2="309.70" stroke="#1a1a1a" stroke-width="1.0"/>
<line x1="343.60" y1="309.50" x2="347.60" y2="309.50" stroke="#1a1a1a" stroke-width="1.0"/>
<line x1="343.60" y1="358.50" x2="347.60" y2="358.50" stroke="#1a1a1a" stroke-width="1.0"/>
<line x1="356.50" y1="319.00" x2="356.50" y2="311.30" stroke="#1a1a1a" stroke-width="1.0"/>
<line x1="354.40" y1="311.50" x2="358.40" y2="311.50" stroke="#1a1a1a" stroke-width="1.0"/>
<line x1="354.40" y1="319.50" x2="358.40" y2="319.50" stroke="#1a1a1a" stroke-width="1.0"/>
<circle cx="175.20" cy="382.80" r="1.65" fill="#1a1a1a"/>
<circle cx="178.20" cy="382.20" r="1.65" fill="#1a1a1a"/>
<circle cx="177.00" cy="384.30" r="1.65" fill="#1a1a1a"/>
<circle cx="185.30" cy="380.70" r="1.65" fill="#1a1a1a"/>
<circle cx="189.70" cy="380.70" r="1.65" fill="#1a1a1a"/>
<circle cx="187.50" cy="384.10" r="1.65" fill="#1a1a1a"/>
<circle cx="196.70" cy="385.40" r="1.65" fill="#1a1a1a"/>
<circle cx="199.90" cy="385.40" r="1.65" fill="#1a1a1a"/>
<circle cx="217.20" cy="376.70" r="1.65" fill="#1a1a1a"/>
<circle cx="215.20" cy="378.90" r="1.65" fill="#1a1a1a"/>
<circle cx="213.60" cy="380.70" r="1.65" fill="#1a1a1a"/>
<circle cx="218.00" cy="380.70" r="1.65" fill="#1a1a1a"/>
<circle cx="224.80" cy="379.60" r="1.65" fill="#1a1a1a"/>
<circle cx="229.20" cy="379.60" r="1.65" fill="#1a1a1a"/>
<circle cx="227.00" cy="384.00" r="1.65" fill="#1a1a1a"/>
<circle cx="236.20" cy="385.30" r="1.65" fill="#1a1a1a"/>
<circle cx="239.40" cy="385.30" r="1.65" fill="#1a1a1a"/>
<circle cx="253.50" cy="382.00" r="1.65" fill="#1a1a1a"/>
<circle cx="257.00" cy="382.30" r="1.65" fill="#1a1a1a"/>
<circle cx="255.50" cy="384.20" r="1.65" fill="#1a1a1a"/>
<circle cx="264.10" cy="380.70" r="1.65" fill="#1a1a1a"/>
<circle cx="268.50" cy="380.70" r="1.65" fill="#1a1a1a"/>
<circle cx="266.30" cy="384.10" r="1.65" fill="#1a1a1a"/>
<circle cx="275.50" cy="385.30" r="1.65" fill="#1a1a1a"/>
<circle cx="278.70" cy="385.30" r="1.65" fill="#1a1a1a"/>
<circle cx="293.40" cy="339.60" r="1.65" fill="#1a1a1a"/>
<circle cx="297.20" cy="339.60" r="1.65" fill="#1a1a1a"/>
<circle cx="293.40" cy="344.60" r="1.65" fill="#1a1a1a"/>
<circle cx="297.20" cy="344.60" r="1.65" fill="#1a1a1a"/>
<circle cx="306.10" cy="335.80" r="1.65" fill="#1a1a1a"/>
<circle cx="306.10" cy="344.80" r="1.65" fill="#1a1a1a"/>
<circle cx="306.10" cy="356.50" r="1.65" fill="#1a1a1a"/>
<circle cx="306.10" cy="364.60" r="1.65" fill="#1a1a1a"/>
<circle cx="315.90" cy="358.80" r="1.65" fill="#1a1a1a"/>
<circle cx="318.50" cy="361.20" r="1.65" fill="#1a1a1a"/>
<circle cx="315.50" cy="363.50" r="1.65" fill="#1a1a1a"/>
<circle cx="318.70" cy="363.00" r="1.65" fill="#1a1a1a"/>
<circle cx="332.40" cy="341.10" r="1.65" fill="#1a1a1a"/>
<circle cx="334.80" cy="341.10" r="1.65" fill="#1a1a1a"/>
<circle cx="337.20" cy="341.10" r="1.65" fill="#1a1a1a"/>
<circle cx="334.80" cy="351.60" r="1.65" fill="#1a1a1a"/>
<circle cx="334.80" cy="361.30" r="1.65" fill="#1a1a1a"/>
<circle cx="345.60" cy="309.70" r="1.65" fill="#1a1a1a"/>
<circle cx="345.60" cy="321.10" r="1.65" fill="#1a1a1a"/>
<circle cx="345.60" cy="351.20" r="1.65" fill="#1a1a1a"/>
<circle cx="345.60" cy="358.10" r="1.65" fill="#1a1a1a"/>
<circle cx="356.40" cy="311.30" r="1.65" fill="#1a1a1a"/>
<circle cx="353.80" cy="318.50" r="1.65" fill="#1a1a1a"/>
<circle cx="357.20" cy="316.00" r="1.65" fill="#1a1a1a"/>
<circle cx="359.60" cy="315.50" r="1.65" fill="#1a1a1a"/>
<circle cx="354.90" cy="319.20" r="1.65" fill="#1a1a1a"/>
<line x1="165.80" y1="386.50" x2="364.00" y2="386.50" stroke="#1a1a1a" stroke-width="1.1"/>
<line x1="187.50" y1="386.30" x2="187.50" y2="390.50" stroke="#1a1a1a" stroke-width="1.1"/>
<line x1="227.50" y1="386.30" x2="227.50" y2="390.50" stroke="#1a1a1a" stroke-width="1.1"/>
<line x1="266.50" y1="386.30" x2="266.50" y2="390.50" stroke="#1a1a1a" stroke-width="1.1"/>
<line x1="306.50" y1="386.30" x2="306.50" y2="390.50" stroke="#1a1a1a" stroke-width="1.1"/>
<line x1="345.50" y1="386.30" x2="345.50" y2="390.50" stroke="#1a1a1a" stroke-width="1.1"/>
<text x="187.50" y="403.00" font-size="8" text-anchor="middle" stroke="#1a1a1a" stroke-width="0.18">2n</text>
<text x="227.00" y="403.00" font-size="8" text-anchor="middle" stroke="#1a1a1a" stroke-width="0.18">4n</text>
<text x="266.30" y="403.00" font-size="8" text-anchor="middle" stroke="#1a1a1a" stroke-width="0.18">8n</text>
<text x="306.10" y="403.00" font-size="8" text-anchor="middle" stroke="#1a1a1a" stroke-width="0.18">16n</text>
<text x="345.60" y="403.00" font-size="8" text-anchor="middle" stroke="#1a1a1a" stroke-width="0.18">32n+</text>
<text x="267.00" y="418.50" font-size="10.4" text-anchor="middle" font-weight="bold" textLength="42.50" lengthAdjust="spacingAndGlyphs">DNA Content</text>
<text x="144.02" y="340.30" font-size="9.5" text-anchor="middle" font-weight="bold" transform="rotate(-90 144.02 340.30)" textLength="49.20" lengthAdjust="spacingAndGlyphs">Frequency (%)</text>
<rect x="177.00" y="302.40" width="8.00" height="5.20" fill="#dcdfdf"/>
<text x="188.80" y="308.00" font-size="8" text-anchor="start" stroke="#1a1a1a" stroke-width="0.18">DMSO</text>
<rect x="177.00" y="315.60" width="8.00" height="5.20" fill="#eaa2ad"/>
<text x="188.80" y="321.20" font-size="8" text-anchor="start" stroke="#1a1a1a" stroke-width="0.18">0.0025 ng/mL Niraparib</text>
<rect x="177.00" y="328.80" width="8.00" height="5.20" fill="#d95b73"/>
<text x="188.80" y="334.40" font-size="8" text-anchor="start" stroke="#1a1a1a" stroke-width="0.18">0.005 ng/mL Niraparib</text>
<polyline points="295.50,334.60 295.50,322.50 316.50,322.50 316.50,353.80" fill="none" stroke="#1a1a1a" stroke-width="1.0"/>
<text x="306.05" y="318.50" font-size="8" text-anchor="middle" stroke="#1a1a1a" stroke-width="0.18">0.0027</text>
<polyline points="334.50,339.50 334.50,302.50 345.50,302.50 345.50,310.00" fill="none" stroke="#1a1a1a" stroke-width="1.0"/>
<text x="340.40" y="298.50" font-size="8.2" text-anchor="middle" stroke="#1a1a1a" stroke-width="0.18">0.0356</text>
<polyline points="345.50,292.20 345.50,288.50 356.50,288.50 356.50,310.00" fill="none" stroke="#1a1a1a" stroke-width="1.0"/>
<text x="351.00" y="284.50" font-size="8.2" text-anchor="middle" stroke="#1a1a1a" stroke-width="0.18">0.0019</text>
<polyline points="334.50,291.20 334.50,274.50 356.50,274.50 356.50,277.50" fill="none" stroke="#1a1a1a" stroke-width="1.0"/>
<text x="345.20" y="270.40" font-size="8.2" text-anchor="middle" stroke="#1a1a1a" stroke-width="0.18">&lt;0.0001</text>
<text x="383.90" y="256.59" font-size="14.8" font-weight="bold" fill="#000" stroke="#000" stroke-width="0.15">G</text>
<rect x="422.80" y="341.70" width="9.80" height="44.70" fill="#dcdfdf"/>
<rect x="438.50" y="315.80" width="9.80" height="70.60" fill="#eaa2ad"/>
<rect x="453.90" y="342.80" width="9.80" height="43.60" fill="#d95b73"/>
<rect x="469.60" y="340.00" width="9.80" height="46.40" fill="#c8102e"/>
<rect x="485.20" y="354.70" width="9.80" height="31.70" fill="#6a3e1a"/>
<line x1="427.50" y1="343.30" x2="427.50" y2="326.50" stroke="#1a1a1a" stroke-width="1.0"/>
<line x1="425.20" y1="326.50" x2="430.20" y2="326.50" stroke="#1a1a1a" stroke-width="1.0"/>
<line x1="425.20" y1="343.50" x2="430.20" y2="343.50" stroke="#1a1a1a" stroke-width="1.0"/>
<circle cx="427.70" cy="326.80" r="1.65" fill="#1a1a1a"/>
<circle cx="423.50" cy="339.70" r="1.65" fill="#1a1a1a"/>
<circle cx="431.30" cy="339.70" r="1.65" fill="#1a1a1a"/>
<line x1="443.50" y1="320.40" x2="443.50" y2="309.00" stroke="#1a1a1a" stroke-width="1.0"/>
<line x1="440.90" y1="309.50" x2="445.90" y2="309.50" stroke="#1a1a1a" stroke-width="1.0"/>
<line x1="440.90" y1="320.50" x2="445.90" y2="320.50" stroke="#1a1a1a" stroke-width="1.0"/>
<circle cx="443.40" cy="309.50" r="1.65" fill="#1a1a1a"/>
<circle cx="443.40" cy="316.30" r="1.65" fill="#1a1a1a"/>
<circle cx="443.40" cy="320.00" r="1.65" fill="#1a1a1a"/>
<line x1="458.50" y1="343.30" x2="458.50" y2="337.60" stroke="#1a1a1a" stroke-width="1.0"/>
<line x1="456.30" y1="337.50" x2="461.30" y2="337.50" stroke="#1a1a1a" stroke-width="1.0"/>
<line x1="456.30" y1="343.50" x2="461.30" y2="343.50" stroke="#1a1a1a" stroke-width="1.0"/>
<circle cx="458.80" cy="338.00" r="1.65" fill="#1a1a1a"/>
<circle cx="454.60" cy="343.30" r="1.65" fill="#1a1a1a"/>
<circle cx="458.80" cy="343.30" r="1.65" fill="#1a1a1a"/>
<circle cx="463.00" cy="343.30" r="1.65" fill="#1a1a1a"/>
<line x1="474.50" y1="344.90" x2="474.50" y2="334.30" stroke="#1a1a1a" stroke-width="1.0"/>
<line x1="472.00" y1="334.50" x2="477.00" y2="334.50" stroke="#1a1a1a" stroke-width="1.0"/>
<line x1="472.00" y1="344.50" x2="477.00" y2="344.50" stroke="#1a1a1a" stroke-width="1.0"/>
<circle cx="474.50" cy="334.80" r="1.65" fill="#1a1a1a"/>
<circle cx="474.50" cy="339.20" r="1.65" fill="#1a1a1a"/>
<circle cx="474.50" cy="344.90" r="1.65" fill="#1a1a1a"/>
<line x1="490.50" y1="356.40" x2="490.50" y2="351.00" stroke="#1a1a1a" stroke-width="1.0"/>
<line x1="487.60" y1="351.50" x2="492.60" y2="351.50" stroke="#1a1a1a" stroke-width="1.0"/>
<line x1="487.60" y1="356.50" x2="492.60" y2="356.50" stroke="#1a1a1a" stroke-width="1.0"/>
<circle cx="486.00" cy="351.00" r="1.65" fill="#1a1a1a"/>
<circle cx="490.10" cy="356.20" r="1.65" fill="#1a1a1a"/>
<circle cx="494.00" cy="353.10" r="1.65" fill="#1a1a1a"/>
<line x1="416.50" y1="288.00" x2="416.50" y2="387.00" stroke="#1a1a1a" stroke-width="1.1"/>
<line x1="412.00" y1="386.50" x2="416.20" y2="386.50" stroke="#1a1a1a" stroke-width="1.1"/>
<text x="408.00" y="389.28" font-size="8" text-anchor="end" stroke="#1a1a1a" stroke-width="0.18">0</text>
<line x1="412.00" y1="354.50" x2="416.20" y2="354.50" stroke="#1a1a1a" stroke-width="1.1"/>
<text x="408.00" y="357.58" font-size="8" text-anchor="end" stroke="#1a1a1a" stroke-width="0.18">10</text>
<line x1="412.00" y1="323.50" x2="416.20" y2="323.50" stroke="#1a1a1a" stroke-width="1.1"/>
<text x="408.00" y="325.88" font-size="8" text-anchor="end" stroke="#1a1a1a" stroke-width="0.18">20</text>
<line x1="412.00" y1="291.50" x2="416.20" y2="291.50" stroke="#1a1a1a" stroke-width="1.1"/>
<text x="408.00" y="294.18" font-size="8" text-anchor="end" stroke="#1a1a1a" stroke-width="0.18">30</text>
<line x1="412.00" y1="386.50" x2="500.00" y2="386.50" stroke="#1a1a1a" stroke-width="1.1"/>
<line x1="427.50" y1="386.40" x2="427.50" y2="390.60" stroke="#1a1a1a" stroke-width="1.1"/>
<line x1="443.50" y1="386.40" x2="443.50" y2="390.60" stroke="#1a1a1a" stroke-width="1.1"/>
<line x1="458.50" y1="386.40" x2="458.50" y2="390.60" stroke="#1a1a1a" stroke-width="1.1"/>
<line x1="474.50" y1="386.40" x2="474.50" y2="390.60" stroke="#1a1a1a" stroke-width="1.1"/>
<line x1="490.50" y1="386.40" x2="490.50" y2="390.60" stroke="#1a1a1a" stroke-width="1.1"/>
<text x="431.20" y="398.90" font-size="8.2" text-anchor="end" transform="rotate(-45 431.20 398.90)" stroke="#1a1a1a" stroke-width="0.18">DMSO</text>
<text x="446.90" y="398.90" font-size="8.2" text-anchor="end" transform="rotate(-45 446.90 398.90)" stroke="#1a1a1a" stroke-width="0.18">0.0025</text>
<text x="462.30" y="398.90" font-size="8.2" text-anchor="end" transform="rotate(-45 462.30 398.90)" stroke="#1a1a1a" stroke-width="0.18">0.005</text>
<text x="478.00" y="398.90" font-size="8.2" text-anchor="end" transform="rotate(-45 478.00 398.90)" stroke="#1a1a1a" stroke-width="0.18">0.0075</text>
<text x="493.60" y="398.90" font-size="8.2" text-anchor="end" transform="rotate(-45 493.60 398.90)" stroke="#1a1a1a" stroke-width="0.18">0.01</text>
<text x="459.40" y="431.00" font-size="9.2" text-anchor="middle" font-weight="bold" textLength="53.00" lengthAdjust="spacingAndGlyphs">ng/mL niraparib</text>
<text x="391.62" y="334.60" font-size="9.5" text-anchor="middle" font-weight="bold" transform="rotate(-90 391.62 334.60)" textLength="98.70" lengthAdjust="spacingAndGlyphs">% Proplatelet producing MKs</text>
<polyline points="426.50,316.50 426.50,296.50 440.50,296.50 440.50,300.00" fill="none" stroke="#1a1a1a" stroke-width="1.0"/>
<text x="433.45" y="293.00" font-size="8" text-anchor="middle" stroke="#1a1a1a" stroke-width="0.18">0.009</text>
<polyline points="430.50,285.50 430.50,281.50 489.50,281.50 489.50,334.30" fill="none" stroke="#1a1a1a" stroke-width="1.0"/>
<text x="459.90" y="278.50" font-size="8" text-anchor="middle" stroke="#1a1a1a" stroke-width="0.18">0.036</text>
<text x="11.50" y="465.09" font-size="14.8" font-weight="bold" fill="#000" stroke="#000" stroke-width="0.15">H</text>
<rect x="28.00" y="472.50" width="55.80" height="20.80" fill="#dadada"/>
<text x="55.90" y="487.30" font-size="10.3" text-anchor="middle" fill="#111" stroke="#111" stroke-width="0.18">Day 0</text>
<rect x="160.00" y="472.50" width="55.80" height="20.80" fill="#dadada"/>
<text x="187.90" y="487.30" font-size="10.3" text-anchor="middle" fill="#111" stroke="#111" stroke-width="0.18">Day 4</text>
<line x1="55.50" y1="505.70" x2="55.50" y2="601.90" stroke="#1a1a1a" stroke-width="1.1"/>
<line x1="51.60" y1="601.50" x2="55.80" y2="601.50" stroke="#1a1a1a" stroke-width="1.1"/>
<text x="47.60" y="604.18" font-size="8" text-anchor="end" stroke="#1a1a1a" stroke-width="0.18">0</text>
<line x1="51.60" y1="578.50" x2="55.80" y2="578.50" stroke="#1a1a1a" stroke-width="1.1"/>
<text x="47.60" y="581.28" font-size="8" text-anchor="end" stroke="#1a1a1a" stroke-width="0.18">500</text>
<line x1="51.60" y1="555.50" x2="55.80" y2="555.50" stroke="#1a1a1a" stroke-width="1.1"/>
<text x="47.60" y="558.38" font-size="8" text-anchor="end" stroke="#1a1a1a" stroke-width="0.18">1000</text>
<line x1="51.60" y1="532.50" x2="55.80" y2="532.50" stroke="#1a1a1a" stroke-width="1.1"/>
<text x="47.60" y="535.48" font-size="8" text-anchor="end" stroke="#1a1a1a" stroke-width="0.18">1500</text>
<line x1="51.60" y1="509.50" x2="55.80" y2="509.50" stroke="#1a1a1a" stroke-width="1.1"/>
<text x="47.60" y="512.58" font-size="8" text-anchor="end" stroke="#1a1a1a" stroke-width="0.18">2000</text>
<line x1="51.60" y1="601.50" x2="148.00" y2="601.50" stroke="#1a1a1a" stroke-width="1.1"/>
<line x1="67.50" y1="601.30" x2="67.50" y2="605.50" stroke="#1a1a1a" stroke-width="1.1"/>
<line x1="84.50" y1="601.30" x2="84.50" y2="605.50" stroke="#1a1a1a" stroke-width="1.1"/>
<line x1="101.50" y1="601.30" x2="101.50" y2="605.50" stroke="#1a1a1a" stroke-width="1.1"/>
<line x1="119.50" y1="601.30" x2="119.50" y2="605.50" stroke="#1a1a1a" stroke-width="1.1"/>
<line x1="136.50" y1="601.30" x2="136.50" y2="605.50" stroke="#1a1a1a" stroke-width="1.1"/>
<text x="67.80" y="617.00" font-size="8" text-anchor="middle" stroke="#1a1a1a" stroke-width="0.18">0</text>
<text x="84.60" y="617.00" font-size="8" text-anchor="middle" stroke="#1a1a1a" stroke-width="0.18">50</text>
<text x="101.90" y="617.00" font-size="8" text-anchor="middle" stroke="#1a1a1a" stroke-width="0.18">100</text>
<text x="119.20" y="617.00" font-size="8" text-anchor="middle" stroke="#1a1a1a" stroke-width="0.18">150</text>
<text x="136.50" y="617.00" font-size="8" text-anchor="middle" stroke="#1a1a1a" stroke-width="0.18">200</text>
<circle cx="63.70" cy="540.90" r="1.8" fill="#7c7262"/>
<circle cx="71.60" cy="539.60" r="1.8" fill="#7c7262"/>
<circle cx="67.80" cy="547.20" r="1.8" fill="#7c7262"/>
<circle cx="67.80" cy="558.00" r="1.8" fill="#7c7262"/>
<line x1="62.00" y1="546.50" x2="73.60" y2="546.50" stroke="#333" stroke-width="1.1"/>
<rect x="79.15" y="534.65" width="3.3" height="3.3" fill="#c8406a"/>
<rect x="87.15" y="537.55" width="3.3" height="3.3" fill="#c8406a"/>
<rect x="82.95" y="541.85" width="3.3" height="3.3" fill="#c8406a"/>
<rect x="82.95" y="548.75" width="3.3" height="3.3" fill="#c8406a"/>
<rect x="82.95" y="562.15" width="3.3" height="3.3" fill="#c8406a"/>
<line x1="78.80" y1="546.50" x2="90.40" y2="546.50" stroke="#333" stroke-width="1.1"/>
<rect x="100.25" y="528.55" width="3.3" height="3.3" fill="#d8708c"/>
<rect x="100.25" y="541.45" width="3.3" height="3.3" fill="#d8708c"/>
<rect x="96.45" y="548.55" width="3.3" height="3.3" fill="#d8708c"/>
<rect x="104.15" y="550.65" width="3.3" height="3.3" fill="#d8708c"/>
<rect x="96.45" y="553.55" width="3.3" height="3.3" fill="#d8708c"/>
<line x1="96.10" y1="546.50" x2="107.70" y2="546.50" stroke="#333" stroke-width="1.1"/>
<rect x="113.75" y="536.05" width="3.3" height="3.3" fill="#e8a8b8"/>
<rect x="117.55" y="534.35" width="3.3" height="3.3" fill="#e8a8b8"/>
<rect x="121.45" y="537.95" width="3.3" height="3.3" fill="#e8a8b8"/>
<rect x="117.55" y="547.15" width="3.3" height="3.3" fill="#e8a8b8"/>
<rect x="117.55" y="556.25" width="3.3" height="3.3" fill="#e8a8b8"/>
<line x1="113.40" y1="544.50" x2="125.00" y2="544.50" stroke="#333" stroke-width="1.1"/>
<rect x="134.85" y="540.45" width="3.3" height="3.3" fill="#f0c8d0"/>
<rect x="138.75" y="543.95" width="3.3" height="3.3" fill="#f0c8d0"/>
<rect x="131.05" y="552.95" width="3.3" height="3.3" fill="#f0c8d0"/>
<rect x="138.75" y="551.45" width="3.3" height="3.3" fill="#f0c8d0"/>
<line x1="130.70" y1="548.50" x2="142.30" y2="548.50" stroke="#333" stroke-width="1.1"/>
<text x="101.70" y="633.60" font-size="11" text-anchor="middle" font-weight="bold" textLength="12.30" lengthAdjust="spacingAndGlyphs">cGy</text>
<text x="21.30" y="551.60" font-size="8.6" text-anchor="middle" transform="rotate(-90 21.30 551.60)" stroke="#1a1a1a" stroke-width="0.18">Plt (×10<tspan font-size="5" dy="-3">3</tspan><tspan dy="3"> µL</tspan><tspan font-size="5" dy="-3">-1</tspan><tspan dy="3">)</tspan></text>
<line x1="235.50" y1="503.00" x2="235.50" y2="602.10" stroke="#1a1a1a" stroke-width="1.1"/>
<line x1="231.20" y1="601.50" x2="235.40" y2="601.50" stroke="#1a1a1a" stroke-width="1.1"/>
<text x="227.20" y="604.38" font-size="8" text-anchor="end" stroke="#1a1a1a" stroke-width="0.18">0</text>
<line x1="231.20" y1="577.50" x2="235.40" y2="577.50" stroke="#1a1a1a" stroke-width="1.1"/>
<text x="227.20" y="580.78" font-size="8" text-anchor="end" stroke="#1a1a1a" stroke-width="0.18">500</text>
<line x1="231.20" y1="554.50" x2="235.40" y2="554.50" stroke="#1a1a1a" stroke-width="1.1"/>
<text x="227.20" y="557.18" font-size="8" text-anchor="end" stroke="#1a1a1a" stroke-width="0.18">1000</text>
<line x1="231.20" y1="530.50" x2="235.40" y2="530.50" stroke="#1a1a1a" stroke-width="1.1"/>
<text x="227.20" y="533.58" font-size="8" text-anchor="end" stroke="#1a1a1a" stroke-width="0.18">1500</text>
<line x1="231.20" y1="507.50" x2="235.40" y2="507.50" stroke="#1a1a1a" stroke-width="1.1"/>
<text x="227.20" y="509.98" font-size="8" text-anchor="end" stroke="#1a1a1a" stroke-width="0.18">2000</text>
<line x1="231.20" y1="601.50" x2="330.00" y2="601.50" stroke="#1a1a1a" stroke-width="1.1"/>
<line x1="247.50" y1="601.50" x2="247.50" y2="605.70" stroke="#1a1a1a" stroke-width="1.1"/>
<line x1="265.50" y1="601.50" x2="265.50" y2="605.70" stroke="#1a1a1a" stroke-width="1.1"/>
<line x1="283.50" y1="601.50" x2="283.50" y2="605.70" stroke="#1a1a1a" stroke-width="1.1"/>
<line x1="300.50" y1="601.50" x2="300.50" y2="605.70" stroke="#1a1a1a" stroke-width="1.1"/>
<line x1="318.50" y1="601.50" x2="318.50" y2="605.70" stroke="#1a1a1a" stroke-width="1.1"/>
<text x="247.50" y="617.00" font-size="8" text-anchor="middle" stroke="#1a1a1a" stroke-width="0.18">0</text>
<text x="265.10" y="617.00" font-size="8" text-anchor="middle" stroke="#1a1a1a" stroke-width="0.18">50</text>
<text x="283.10" y="617.00" font-size="8" text-anchor="middle" stroke="#1a1a1a" stroke-width="0.18">100</text>
<text x="300.90" y="617.00" font-size="8" text-anchor="middle" stroke="#1a1a1a" stroke-width="0.18">150</text>
<text x="318.50" y="617.00" font-size="8" text-anchor="middle" stroke="#1a1a1a" stroke-width="0.18">200</text>
<circle cx="247.50" cy="535.30" r="1.8" fill="#7c7262"/>
<circle cx="247.50" cy="541.60" r="1.8" fill="#7c7262"/>
<circle cx="247.50" cy="554.20" r="1.8" fill="#7c7262"/>
<circle cx="247.50" cy="562.80" r="1.8" fill="#7c7262"/>
<line x1="241.70" y1="548.50" x2="253.30" y2="548.50" stroke="#333" stroke-width="1.1"/>
<rect x="263.45" y="529.35" width="3.3" height="3.3" fill="#c8406a"/>
<rect x="267.45" y="535.05" width="3.3" height="3.3" fill="#c8406a"/>
<rect x="259.45" y="537.95" width="3.3" height="3.3" fill="#c8406a"/>
<rect x="263.45" y="544.75" width="3.3" height="3.3" fill="#c8406a"/>
<rect x="263.45" y="557.45" width="3.3" height="3.3" fill="#c8406a"/>
<line x1="259.30" y1="542.50" x2="270.90" y2="542.50" stroke="#333" stroke-width="1.1"/>
<rect x="281.45" y="516.65" width="3.3" height="3.3" fill="#d8708c"/>
<rect x="281.45" y="521.05" width="3.3" height="3.3" fill="#d8708c"/>
<rect x="277.15" y="525.75" width="3.3" height="3.3" fill="#d8708c"/>
<rect x="285.35" y="528.65" width="3.3" height="3.3" fill="#d8708c"/>
<rect x="281.45" y="532.95" width="3.3" height="3.3" fill="#d8708c"/>
<line x1="277.30" y1="526.50" x2="288.90" y2="526.50" stroke="#333" stroke-width="1.1"/>
<rect x="295.85" y="524.15" width="3.3" height="3.3" fill="#e8a8b8"/>
<rect x="300.25" y="521.85" width="3.3" height="3.3" fill="#e8a8b8"/>
<rect x="303.85" y="522.95" width="3.3" height="3.3" fill="#e8a8b8"/>
<rect x="299.25" y="525.85" width="3.3" height="3.3" fill="#e8a8b8"/>
<rect x="298.95" y="560.75" width="3.3" height="3.3" fill="#e8a8b8"/>
<line x1="295.10" y1="532.50" x2="306.70" y2="532.50" stroke="#333" stroke-width="1.1"/>
<rect x="316.85" y="512.35" width="3.3" height="3.3" fill="#f0c8d0"/>
<rect x="312.85" y="517.75" width="3.3" height="3.3" fill="#f0c8d0"/>
<rect x="321.15" y="517.75" width="3.3" height="3.3" fill="#f0c8d0"/>
<rect x="316.85" y="524.25" width="3.3" height="3.3" fill="#f0c8d0"/>
<rect x="316.85" y="531.95" width="3.3" height="3.3" fill="#f0c8d0"/>
<line x1="312.70" y1="522.50" x2="324.30" y2="522.50" stroke="#333" stroke-width="1.1"/>
<text x="282.90" y="633.80" font-size="11" text-anchor="middle" font-weight="bold" textLength="12.50" lengthAdjust="spacingAndGlyphs">cGy</text>
<text x="201.80" y="550.00" font-size="8.6" text-anchor="middle" transform="rotate(-90 201.80 550.00)" stroke="#1a1a1a" stroke-width="0.18">Plt (×10<tspan font-size="5" dy="-3">3</tspan><tspan dy="3"> µL</tspan><tspan font-size="5" dy="-3">-1</tspan><tspan dy="3">)</tspan></text>
<polyline points="247.50,497.00 247.50,480.50 318.50,480.50 318.50,508.70" fill="none" stroke="#1a1a1a" stroke-width="1.0"/>
<text x="283.00" y="476.50" font-size="8" text-anchor="middle" stroke="#1a1a1a" stroke-width="0.18">0.010</text>
<polyline points="247.50,529.20 247.50,502.50 283.50,502.50 283.50,511.80" fill="none" stroke="#1a1a1a" stroke-width="1.0"/>
<text x="265.30" y="498.00" font-size="8" text-anchor="middle" stroke="#1a1a1a" stroke-width="0.18">0.029</text>
<text x="350.10" y="458.49" font-size="14.8" font-weight="bold" fill="#000" stroke="#000" stroke-width="0.15">I</text>
<text x="442.30" y="476.19" font-size="10.8" text-anchor="middle" stroke="#1a1a1a" stroke-width="0.18">MKs</text>
<rect x="350.20" y="473.10" width="55.80" height="21.00" fill="#dadada"/>
<text x="378.10" y="488.00" font-size="10.3" text-anchor="middle" fill="#111" stroke="#111" stroke-width="0.18">Day 2</text>
<rect x="411.90" y="589.75" width="18.40" height="11.65" fill="#a5adb5"/>
<rect x="433.50" y="580.68" width="18.00" height="20.72" fill="#f6d3da"/>
<rect x="454.60" y="540.35" width="17.80" height="61.05" fill="#e992a2"/>
<line x1="421.50" y1="590.00" x2="421.50" y2="585.10" stroke="#1a1a1a" stroke-width="1.0"/>
<line x1="418.00" y1="585.50" x2="425.00" y2="585.50" stroke="#1a1a1a" stroke-width="1.0"/>
<line x1="418.00" y1="590.50" x2="425.00" y2="590.50" stroke="#1a1a1a" stroke-width="1.0"/>
<line x1="442.50" y1="580.80" x2="442.50" y2="572.00" stroke="#8a2a40" stroke-width="1.0"/>
<line x1="438.80" y1="572.50" x2="445.80" y2="572.50" stroke="#8a2a40" stroke-width="1.0"/>
<line x1="438.80" y1="580.50" x2="445.80" y2="580.50" stroke="#8a2a40" stroke-width="1.0"/>
<line x1="463.50" y1="540.35" x2="463.50" y2="519.63" stroke="#c03050" stroke-width="1.0"/>
<line x1="460.30" y1="519.50" x2="466.30" y2="519.50" stroke="#c03050" stroke-width="1.0"/>
<line x1="460.30" y1="540.50" x2="466.30" y2="540.50" stroke="#c03050" stroke-width="1.0"/>
<circle cx="413.80" cy="588.50" r="1.9" fill="#1a1a1a"/>
<circle cx="421.50" cy="589.20" r="1.9" fill="#1a1a1a"/>
<circle cx="428.90" cy="589.20" r="1.9" fill="#1a1a1a"/>
<circle cx="421.50" cy="596.90" r="1.9" fill="#1a1a1a"/>
<circle cx="421.50" cy="585.10" r="1.9" fill="#1a1a1a"/>
<circle cx="442.30" cy="571.10" r="1.9" fill="#1a1a1a"/>
<circle cx="445.80" cy="575.40" r="1.9" fill="#1a1a1a"/>
<circle cx="438.50" cy="578.50" r="1.9" fill="#1a1a1a"/>
<circle cx="442.30" cy="584.30" r="1.9" fill="#1a1a1a"/>
<circle cx="442.30" cy="591.50" r="1.9" fill="#1a1a1a"/>
<circle cx="463.30" cy="519.63" r="1.9" fill="#1a1a1a"/>
<circle cx="463.30" cy="526.48" r="1.9" fill="#1a1a1a"/>
<circle cx="463.30" cy="549.41" r="1.9" fill="#1a1a1a"/>
<circle cx="463.30" cy="563.11" r="1.9" fill="#1a1a1a"/>
<line x1="402.50" y1="508.00" x2="402.50" y2="602.00" stroke="#1a1a1a" stroke-width="1.1"/>
<line x1="398.60" y1="601.50" x2="402.80" y2="601.50" stroke="#1a1a1a" stroke-width="1.1"/>
<line x1="398.60" y1="582.50" x2="402.80" y2="582.50" stroke="#1a1a1a" stroke-width="1.1"/>
<line x1="398.60" y1="564.50" x2="402.80" y2="564.50" stroke="#1a1a1a" stroke-width="1.1"/>
<line x1="398.60" y1="545.50" x2="402.80" y2="545.50" stroke="#1a1a1a" stroke-width="1.1"/>
<line x1="398.60" y1="527.50" x2="402.80" y2="527.50" stroke="#1a1a1a" stroke-width="1.1"/>
<line x1="398.60" y1="508.50" x2="402.80" y2="508.50" stroke="#1a1a1a" stroke-width="1.1"/>
<text x="392.30" y="585.70" font-size="7.8" text-anchor="end" textLength="19.50" lengthAdjust="spacingAndGlyphs" stroke="#1a1a1a" stroke-width="0.18">1×10</text>
<text x="392.70" y="582.50" font-size="5" text-anchor="start" stroke="#1a1a1a" stroke-width="0.18">5</text>
<text x="392.30" y="567.20" font-size="7.8" text-anchor="end" textLength="19.50" lengthAdjust="spacingAndGlyphs" stroke="#1a1a1a" stroke-width="0.18">2×10</text>
<text x="392.70" y="564.00" font-size="5" text-anchor="start" stroke="#1a1a1a" stroke-width="0.18">5</text>
<text x="392.30" y="548.70" font-size="7.8" text-anchor="end" textLength="19.50" lengthAdjust="spacingAndGlyphs" stroke="#1a1a1a" stroke-width="0.18">3×10</text>
<text x="392.70" y="545.50" font-size="5" text-anchor="start" stroke="#1a1a1a" stroke-width="0.18">5</text>
<text x="392.30" y="530.20" font-size="7.8" text-anchor="end" textLength="19.50" lengthAdjust="spacingAndGlyphs" stroke="#1a1a1a" stroke-width="0.18">4×10</text>
<text x="392.70" y="527.00" font-size="5" text-anchor="start" stroke="#1a1a1a" stroke-width="0.18">5</text>
<text x="392.30" y="511.70" font-size="7.8" text-anchor="end" textLength="19.50" lengthAdjust="spacingAndGlyphs" stroke="#1a1a1a" stroke-width="0.18">5×10</text>
<text x="392.70" y="508.50" font-size="5" text-anchor="start" stroke="#1a1a1a" stroke-width="0.18">5</text>
<text x="394.50" y="604.30" font-size="8" text-anchor="end" stroke="#1a1a1a" stroke-width="0.18">0</text>
<line x1="398.60" y1="601.50" x2="481.50" y2="601.50" stroke="#1a1a1a" stroke-width="1.1"/>
<line x1="421.50" y1="601.40" x2="421.50" y2="605.60" stroke="#1a1a1a" stroke-width="1.1"/>
<line x1="442.50" y1="601.40" x2="442.50" y2="605.60" stroke="#1a1a1a" stroke-width="1.1"/>
<line x1="463.50" y1="601.40" x2="463.50" y2="605.60" stroke="#1a1a1a" stroke-width="1.1"/>
<text x="424.50" y="613.90" font-size="8.2" text-anchor="end" transform="rotate(-45 424.50 613.90)" stroke="#1a1a1a" stroke-width="0.18">Control</text>
<text x="445.70" y="613.90" font-size="8.2" text-anchor="end" transform="rotate(-45 445.70 613.90)" stroke="#1a1a1a" stroke-width="0.18">100</text>
<text x="466.80" y="613.90" font-size="8.2" text-anchor="end" transform="rotate(-45 466.80 613.90)" stroke="#1a1a1a" stroke-width="0.18">200</text>
<text x="441.00" y="647.00" font-size="11" text-anchor="middle" font-weight="bold" textLength="12.60" lengthAdjust="spacingAndGlyphs">cGy</text>
<text x="366.42" y="554.30" font-size="9.5" text-anchor="middle" font-weight="bold" transform="rotate(-90 366.42 554.30)" textLength="20.30" lengthAdjust="spacingAndGlyphs">Count</text>
<polyline points="420.50,575.00 420.50,503.50 463.50,503.50 463.50,510.60" fill="none" stroke="#1a1a1a" stroke-width="1.0"/>
<text x="441.95" y="497.50" font-size="8" text-anchor="middle" stroke="#1a1a1a" stroke-width="0.18">&lt;.001</text>
<text x="8.00" y="658.29" font-size="14.8" font-weight="bold" fill="#000" stroke="#000" stroke-width="0.15">J</text>
<rect x="232.40" y="672.20" width="56.20" height="20.30" fill="#dadada"/>
<text x="260.50" y="686.75" font-size="10.3" text-anchor="middle" fill="#111" stroke="#111" stroke-width="0.18">Day 2</text>
<rect x="283.80" y="743.30" width="6.20" height="82.00" fill="#a6aeb6"/>
<rect x="291.20" y="786.30" width="5.80" height="39.00" fill="#ea94a3"/>
<rect x="305.80" y="812.80" width="6.20" height="12.50" fill="#a6aeb6"/>
<rect x="313.20" y="794.30" width="6.30" height="31.00" fill="#ea94a3"/>
<rect x="328.20" y="816.30" width="6.30" height="9.00" fill="#a6aeb6"/>
<rect x="335.50" y="794.30" width="6.30" height="31.00" fill="#ea94a3"/>
<line x1="286.50" y1="743.30" x2="286.50" y2="730.30" stroke="#4e5d70" stroke-width="1.0"/>
<line x1="284.70" y1="730.50" x2="289.10" y2="730.50" stroke="#4e5d70" stroke-width="1.0"/>
<rect x="284.15" y="741.55" width="5.5" height="5.5" fill="#4e5d70"/>
<line x1="294.50" y1="786.30" x2="294.50" y2="781.30" stroke="#c43048" stroke-width="1.0"/>
<line x1="291.90" y1="781.50" x2="296.30" y2="781.50" stroke="#c43048" stroke-width="1.0"/>
<rect x="291.35" y="784.55" width="5.5" height="5.5" fill="#c41e3a"/>
<line x1="308.50" y1="812.80" x2="308.50" y2="804.30" stroke="#4e5d70" stroke-width="1.0"/>
<line x1="306.70" y1="804.50" x2="311.10" y2="804.50" stroke="#4e5d70" stroke-width="1.0"/>
<rect x="306.15" y="811.05" width="5.5" height="5.5" fill="#4e5d70"/>
<line x1="316.50" y1="794.30" x2="316.50" y2="779.30" stroke="#c43048" stroke-width="1.0"/>
<line x1="314.10" y1="779.50" x2="318.50" y2="779.50" stroke="#c43048" stroke-width="1.0"/>
<rect x="313.55" y="792.55" width="5.5" height="5.5" fill="#c41e3a"/>
<line x1="331.50" y1="816.30" x2="331.50" y2="806.30" stroke="#4e5d70" stroke-width="1.0"/>
<line x1="329.10" y1="806.50" x2="333.50" y2="806.50" stroke="#4e5d70" stroke-width="1.0"/>
<rect x="328.55" y="814.55" width="5.5" height="5.5" fill="#4e5d70"/>
<line x1="338.50" y1="794.30" x2="338.50" y2="778.30" stroke="#c43048" stroke-width="1.0"/>
<line x1="336.40" y1="778.50" x2="340.80" y2="778.50" stroke="#c43048" stroke-width="1.0"/>
<rect x="335.85" y="792.55" width="5.5" height="5.5" fill="#c41e3a"/>
<line x1="279.50" y1="722.00" x2="279.50" y2="825.90" stroke="#1a1a1a" stroke-width="1.1"/>
<line x1="275.00" y1="825.50" x2="279.20" y2="825.50" stroke="#1a1a1a" stroke-width="1.1"/>
<text x="271.00" y="828.18" font-size="8" text-anchor="end" stroke="#1a1a1a" stroke-width="0.18">0</text>
<line x1="275.00" y1="805.50" x2="279.20" y2="805.50" stroke="#1a1a1a" stroke-width="1.1"/>
<text x="271.00" y="808.18" font-size="8" text-anchor="end" stroke="#1a1a1a" stroke-width="0.18">20</text>
<line x1="275.00" y1="785.50" x2="279.20" y2="785.50" stroke="#1a1a1a" stroke-width="1.1"/>
<text x="271.00" y="788.18" font-size="8" text-anchor="end" stroke="#1a1a1a" stroke-width="0.18">40</text>
<line x1="275.00" y1="765.50" x2="279.20" y2="765.50" stroke="#1a1a1a" stroke-width="1.1"/>
<text x="271.00" y="768.18" font-size="8" text-anchor="end" stroke="#1a1a1a" stroke-width="0.18">60</text>
<line x1="275.00" y1="745.50" x2="279.20" y2="745.50" stroke="#1a1a1a" stroke-width="1.1"/>
<text x="271.00" y="748.18" font-size="8" text-anchor="end" stroke="#1a1a1a" stroke-width="0.18">80</text>
<line x1="275.00" y1="725.50" x2="279.20" y2="725.50" stroke="#1a1a1a" stroke-width="1.1"/>
<text x="271.00" y="728.18" font-size="8" text-anchor="end" stroke="#1a1a1a" stroke-width="0.18">100</text>
<line x1="275.00" y1="825.50" x2="345.50" y2="825.50" stroke="#1a1a1a" stroke-width="1.1"/>
<line x1="290.50" y1="825.30" x2="290.50" y2="829.50" stroke="#1a1a1a" stroke-width="1.1"/>
<line x1="312.50" y1="825.30" x2="312.50" y2="829.50" stroke="#1a1a1a" stroke-width="1.1"/>
<line x1="334.50" y1="825.30" x2="334.50" y2="829.50" stroke="#1a1a1a" stroke-width="1.1"/>
<text x="293.50" y="837.80" font-size="8.2" text-anchor="end" transform="rotate(-45 293.50 837.80)" stroke="#1a1a1a" stroke-width="0.18">none</text>
<text x="315.50" y="837.80" font-size="8.2" text-anchor="end" transform="rotate(-45 315.50 837.80)" stroke="#1a1a1a" stroke-width="0.18">1 to 10</text>
<text x="338.00" y="837.80" font-size="8.2" text-anchor="end" transform="rotate(-45 338.00 837.80)" stroke="#1a1a1a" stroke-width="0.18">&gt;10</text>
<text x="249.32" y="771.20" font-size="9.5" text-anchor="middle" font-weight="bold" transform="rotate(-90 249.32 771.20)" textLength="89.00" lengthAdjust="spacingAndGlyphs">% of MKs with γH2AX foci</text>
<polyline points="286.50,722.50 286.50,714.50 294.50,714.50 294.50,773.40" fill="none" stroke="#1a1a1a" stroke-width="1.0"/>
<text x="290.20" y="709.20" font-size="8" text-anchor="middle" stroke="#1a1a1a" stroke-width="0.18">0.0004</text>
<polyline points="331.50,798.40 331.50,762.50 339.50,762.50 339.50,769.80" fill="none" stroke="#1a1a1a" stroke-width="1.0"/>
<text x="335.30" y="757.00" font-size="8" text-anchor="middle" stroke="#1a1a1a" stroke-width="0.18">0.0503</text>
<rect x="310.50" y="718.50" width="5.50" height="5.50" fill="#4e5d70"/>
<text x="321.30" y="724.20" font-size="8" text-anchor="start" stroke="#1a1a1a" stroke-width="0.18">0 cGy</text>
<rect x="310.50" y="732.30" width="5.50" height="5.50" fill="#c41e3a"/>
<text x="321.30" y="738.00" font-size="8" text-anchor="start" stroke="#1a1a1a" stroke-width="0.18">200 cGy</text>
<text x="27.98" y="712.10" font-size="10.5" text-anchor="middle" transform="rotate(-90 27.98 712.10)" textLength="66.00" lengthAdjust="spacingAndGlyphs" stroke="#1a1a1a" stroke-width="0.18">Non-irradiated</text>
<text x="27.98" y="814.50" font-size="10.5" text-anchor="middle" transform="rotate(-90 27.98 814.50)" textLength="50.00" lengthAdjust="spacingAndGlyphs" stroke="#1a1a1a" stroke-width="0.18">Irradiated</text>
<clipPath id="clip1"><rect x="33.8" y="665" width="187.7" height="94.3"/></clipPath>
<g clip-path="url(#clip1)">
<rect x="33.8" y="665" width="187.7" height="94.3" fill="#03020a"/>
<g filter="url(#blur3)">
<ellipse cx="110" cy="668" rx="40" ry="6" fill="#8888aa" opacity="0.5"/>
</g>
<g filter="url(#blur1)">
<circle cx="157.0" cy="741.1" r="3.0" fill="#4a48ff" opacity="0.94"/>
<circle cx="179.4" cy="731.8" r="4.3" fill="#3a3af4" opacity="0.99"/>
<circle cx="135.7" cy="756.2" r="3.3" fill="#3a3af4" opacity="0.93"/>
<circle cx="178.7" cy="756.2" r="3.6" fill="#4a48ff" opacity="0.99"/>
<circle cx="127.8" cy="759.0" r="4.5" fill="#3434e4" opacity="0.94"/>
<circle cx="201.7" cy="746.9" r="3.9" fill="#6a50ee" opacity="0.96"/>
<circle cx="109.1" cy="728.7" r="4.4" fill="#403ef0" opacity="0.91"/>
<circle cx="181.6" cy="714.3" r="3.8" fill="#5a44e6" opacity="0.90"/>
<circle cx="195.1" cy="723.7" r="4.0" fill="#4242fc" opacity="1.00"/>
<circle cx="180.1" cy="716.1" r="3.4" fill="#3030d0" opacity="0.90"/>
<circle cx="207.0" cy="728.1" r="4.2" fill="#403ef0" opacity="0.93"/>
<circle cx="70.6" cy="757.3" r="3.6" fill="#3030d0" opacity="0.91"/>
<circle cx="31.1" cy="716.2" r="3.5" fill="#4242fc" opacity="0.95"/>
<circle cx="137.5" cy="680.1" r="3.9" fill="#3434e4" opacity="0.85"/>
<circle cx="118.5" cy="737.6" r="3.4" fill="#4242fc" opacity="0.90"/>
<circle cx="168.6" cy="707.6" r="3.8" fill="#7060e0" opacity="0.90"/>
<circle cx="220.0" cy="758.8" r="4.6" fill="#4a48ff" opacity="0.87"/>
<circle cx="93.0" cy="725.3" r="3.5" fill="#3a3af4" opacity="0.90"/>
<circle cx="212.7" cy="736.6" r="3.4" fill="#5a44e6" opacity="0.94"/>
<circle cx="181.9" cy="724.5" r="3.3" fill="#3030d0" opacity="0.95"/>
<circle cx="114.7" cy="681.5" r="4.1" fill="#4a48ff" opacity="0.85"/>
<circle cx="187.9" cy="718.5" r="3.7" fill="#3a3af4" opacity="0.98"/>
<circle cx="147.1" cy="746.4" r="3.5" fill="#3030d0" opacity="0.97"/>
<circle cx="45.6" cy="717.2" r="4.5" fill="#3434e4" opacity="0.93"/>
<circle cx="210.0" cy="707.9" r="4.3" fill="#3a3af4" opacity="0.94"/>
<circle cx="183.0" cy="720.9" r="3.7" fill="#4242fc" opacity="0.96"/>
<circle cx="50.7" cy="753.3" r="4.6" fill="#3434e4" opacity="0.93"/>
<circle cx="182.9" cy="740.0" r="4.4" fill="#3434e4" opacity="0.89"/>
<circle cx="78.5" cy="670.2" r="4.6" fill="#403ef0" opacity="0.94"/>
<circle cx="143.0" cy="754.4" r="3.2" fill="#3030d0" opacity="0.86"/>
<circle cx="172.0" cy="664.2" r="4.2" fill="#4a48ff" opacity="0.98"/>
<circle cx="45.7" cy="757.2" r="4.2" fill="#3434e4" opacity="0.90"/>
<circle cx="168.2" cy="745.7" r="3.2" fill="#3030d0" opacity="0.99"/>
<circle cx="186.5" cy="753.0" r="4.2" fill="#4242fc" opacity="0.89"/>
<circle cx="181.5" cy="730.4" r="3.7" fill="#4a48ff" opacity="0.98"/>
<circle cx="96.4" cy="687.9" r="4.0" fill="#3030d0" opacity="0.85"/>
<circle cx="84.4" cy="718.6" r="3.1" fill="#4242fc" opacity="0.93"/>
<circle cx="127.8" cy="727.1" r="4.1" fill="#4242fc" opacity="0.90"/>
<circle cx="163.9" cy="757.9" r="3.5" fill="#403ef0" opacity="0.99"/>
<circle cx="166.6" cy="735.9" r="4.4" fill="#3030d0" opacity="0.94"/>
<circle cx="193.9" cy="728.2" r="3.7" fill="#4a48ff" opacity="0.99"/>
<circle cx="115.7" cy="724.4" r="3.3" fill="#3030d0" opacity="0.91"/>
<circle cx="31.6" cy="681.0" r="3.0" fill="#3030d0" opacity="0.89"/>
<circle cx="81.2" cy="679.3" r="3.3" fill="#3434e4" opacity="0.97"/>
<circle cx="112.1" cy="674.2" r="4.4" fill="#3a3af4" opacity="0.99"/>
<circle cx="171.1" cy="727.1" r="3.6" fill="#4a48ff" opacity="0.93"/>
<circle cx="99.9" cy="715.0" r="3.7" fill="#3434e4" opacity="0.93"/>
<circle cx="52.7" cy="754.1" r="3.9" fill="#403ef0" opacity="0.94"/>
<circle cx="201.6" cy="745.2" r="4.6" fill="#3030d0" opacity="0.91"/>
<circle cx="175.0" cy="761.1" r="3.3" fill="#3030d0" opacity="0.88"/>
<circle cx="132.7" cy="730.1" r="4.6" fill="#3030d0" opacity="0.94"/>
<circle cx="172.9" cy="752.1" r="3.8" fill="#403ef0" opacity="1.00"/>
<circle cx="107.8" cy="689.1" r="3.1" fill="#3a3af4" opacity="0.90"/>
<circle cx="200.1" cy="716.6" r="4.3" fill="#4a48ff" opacity="0.93"/>
<circle cx="44.3" cy="668.7" r="3.3" fill="#4242fc" opacity="0.95"/>
<circle cx="108.7" cy="731.1" r="3.3" fill="#3434e4" opacity="0.89"/>
<circle cx="45.3" cy="745.3" r="3.6" fill="#403ef0" opacity="0.86"/>
<circle cx="108.2" cy="710.5" r="4.0" fill="#3434e4" opacity="0.99"/>
<circle cx="167.7" cy="746.6" r="4.4" fill="#3434e4" opacity="0.99"/>
<circle cx="211.5" cy="686.9" r="3.1" fill="#3030d0" opacity="0.92"/>
<circle cx="207.7" cy="735.0" r="3.4" fill="#4242fc" opacity="0.97"/>
<circle cx="203.9" cy="706.2" r="3.6" fill="#4242fc" opacity="0.96"/>
<circle cx="107.7" cy="711.4" r="3.3" fill="#7a74c8" opacity="0.85"/>
<circle cx="176.5" cy="730.5" r="3.8" fill="#3030d0" opacity="0.92"/>
<circle cx="219.4" cy="685.6" r="3.9" fill="#4a48ff" opacity="0.96"/>
<circle cx="108.3" cy="750.3" r="3.2" fill="#3a3af4" opacity="0.91"/>
<circle cx="200.5" cy="716.4" r="3.4" fill="#5840d8" opacity="0.99"/>
<circle cx="193.6" cy="666.3" r="3.2" fill="#3a3af4" opacity="0.92"/>
<circle cx="82.7" cy="688.1" r="3.4" fill="#3030d0" opacity="0.88"/>
<circle cx="113.8" cy="732.0" r="4.6" fill="#3030d0" opacity="0.91"/>
<circle cx="174.8" cy="734.3" r="3.4" fill="#4242fc" opacity="0.86"/>
<circle cx="70.2" cy="704.9" r="4.0" fill="#3030d0" opacity="0.92"/>
<circle cx="102.5" cy="760.8" r="3.9" fill="#4242fc" opacity="0.98"/>
<circle cx="178.7" cy="752.1" r="4.2" fill="#3434e4" opacity="0.97"/>
<circle cx="47.4" cy="665.4" r="4.2" fill="#4242fc" opacity="0.89"/>
<circle cx="204.3" cy="710.3" r="4.3" fill="#3030d0" opacity="0.96"/>
<circle cx="192.5" cy="732.3" r="4.4" fill="#3434e4" opacity="0.96"/>
<circle cx="69.5" cy="701.0" r="3.7" fill="#3a3af4" opacity="0.86"/>
<circle cx="188.7" cy="727.3" r="3.5" fill="#3434e4" opacity="0.96"/>
<circle cx="131.5" cy="662.9" r="3.5" fill="#3434e4" opacity="0.94"/>
<circle cx="41.7" cy="666.9" r="4.4" fill="#4242fc" opacity="0.96"/>
<circle cx="213.3" cy="726.5" r="3.7" fill="#3030d0" opacity="0.93"/>
<circle cx="36.4" cy="687.1" r="3.2" fill="#4a48ff" opacity="0.99"/>
<circle cx="162.8" cy="733.7" r="3.1" fill="#403ef0" opacity="0.86"/>
<circle cx="44.9" cy="747.3" r="3.3" fill="#3a3af4" opacity="0.94"/>
<circle cx="126.4" cy="752.2" r="3.7" fill="#4242fc" opacity="0.97"/>
<circle cx="180.0" cy="713.6" r="3.6" fill="#3030d0" opacity="0.94"/>
<circle cx="38.6" cy="747.4" r="3.3" fill="#403ef0" opacity="0.95"/>
<circle cx="135.5" cy="744.4" r="4.6" fill="#3030d0" opacity="0.95"/>
<circle cx="223.3" cy="690.3" r="4.5" fill="#3030d0" opacity="0.91"/>
<circle cx="152.8" cy="692.9" r="3.8" fill="#3030d0" opacity="0.97"/>
<circle cx="219.6" cy="687.4" r="3.7" fill="#3a3af4" opacity="0.91"/>
<circle cx="160.5" cy="752.1" r="4.4" fill="#4a48ff" opacity="0.89"/>
<circle cx="182.2" cy="725.8" r="4.2" fill="#3a3af4" opacity="0.92"/>
<circle cx="223.5" cy="743.6" r="3.2" fill="#4a48ff" opacity="0.89"/>
<circle cx="130.3" cy="736.2" r="3.7" fill="#4a48ff" opacity="0.88"/>
<circle cx="191.5" cy="757.2" r="3.7" fill="#6a50ee" opacity="0.99"/>
<circle cx="75.2" cy="664.6" r="3.8" fill="#4a48ff" opacity="0.95"/>
<circle cx="67.1" cy="662.3" r="4.5" fill="#6a50ee" opacity="0.93"/>
<circle cx="112.1" cy="729.4" r="3.4" fill="#4a48ff" opacity="0.97"/>
<circle cx="167.2" cy="666.8" r="4.0" fill="#3a3af4" opacity="0.95"/>
<circle cx="53.3" cy="747.6" r="3.6" fill="#4242fc" opacity="0.88"/>
<circle cx="199.1" cy="725.6" r="4.5" fill="#3030d0" opacity="0.90"/>
<circle cx="82.6" cy="716.2" r="4.2" fill="#4242fc" opacity="0.93"/>
<circle cx="83.2" cy="686.7" r="3.4" fill="#403ef0" opacity="0.94"/>
<circle cx="59.6" cy="703.5" r="4.1" fill="#4242fc" opacity="0.92"/>
<circle cx="146.8" cy="686.2" r="4.2" fill="#3030d0" opacity="0.95"/>
<circle cx="188.1" cy="751.4" r="3.8" fill="#4242fc" opacity="0.98"/>
<circle cx="191.4" cy="667.0" r="3.2" fill="#3030d0" opacity="0.94"/>
<circle cx="202.1" cy="704.4" r="3.0" fill="#3030d0" opacity="0.88"/>
<circle cx="152.0" cy="748.4" r="4.2" fill="#3a3af4" opacity="0.90"/>
<circle cx="179.9" cy="730.3" r="3.1" fill="#3a3af4" opacity="0.89"/>
<circle cx="79.0" cy="715.1" r="3.1" fill="#3434e4" opacity="0.99"/>
<circle cx="83.8" cy="713.7" r="4.5" fill="#403ef0" opacity="0.96"/>
<circle cx="55.2" cy="755.0" r="3.1" fill="#403ef0" opacity="0.93"/>
<circle cx="153.4" cy="717.1" r="3.8" fill="#4242fc" opacity="0.98"/>
<circle cx="213.8" cy="688.3" r="4.1" fill="#3a3af4" opacity="0.95"/>
<circle cx="194.2" cy="734.5" r="3.0" fill="#403ef0" opacity="0.87"/>
<circle cx="45.2" cy="720.1" r="4.3" fill="#3434e4" opacity="0.90"/>
<circle cx="220.0" cy="676.6" r="4.1" fill="#3a3af4" opacity="0.93"/>
<circle cx="32.7" cy="743.8" r="4.2" fill="#3a3af4" opacity="0.92"/>
<circle cx="181.7" cy="722.0" r="4.5" fill="#3030d0" opacity="0.92"/>
<circle cx="50.0" cy="740.1" r="4.1" fill="#3a3af4" opacity="0.94"/>
<circle cx="133.5" cy="738.5" r="4.3" fill="#403ef0" opacity="0.90"/>
<circle cx="199.7" cy="673.7" r="4.1" fill="#403ef0" opacity="0.90"/>
<circle cx="41.6" cy="705.6" r="3.5" fill="#4a48ff" opacity="0.97"/>
<circle cx="152.0" cy="751.7" r="3.2" fill="#4a48ff" opacity="0.98"/>
<circle cx="105.0" cy="745.6" r="4.1" fill="#3434e4" opacity="1.00"/>
<circle cx="94.5" cy="686.6" r="4.2" fill="#403ef0" opacity="0.97"/>
<circle cx="170.9" cy="681.4" r="3.9" fill="#3434e4" opacity="0.98"/>
<circle cx="51.9" cy="664.6" r="3.3" fill="#403ef0" opacity="0.93"/>
<circle cx="188.7" cy="754.1" r="3.8" fill="#3434e4" opacity="0.85"/>
<circle cx="212.0" cy="758.3" r="3.9" fill="#4a48ff" opacity="0.89"/>
<circle cx="224.2" cy="669.7" r="3.7" fill="#3a3af4" opacity="0.91"/>
<circle cx="139.3" cy="726.3" r="4.6" fill="#3a3af4" opacity="0.85"/>
<circle cx="139.6" cy="744.9" r="4.0" fill="#4a48ff" opacity="0.93"/>
<circle cx="166.2" cy="732.1" r="3.8" fill="#4242fc" opacity="0.89"/>
<circle cx="80.9" cy="687.3" r="3.9" fill="#6a50ee" opacity="0.99"/>
<circle cx="77.3" cy="676.0" r="4.1" fill="#3a3af4" opacity="0.87"/>
<circle cx="160.1" cy="665.0" r="3.7" fill="#3030d0" opacity="0.87"/>
<circle cx="77.5" cy="700.3" r="4.1" fill="#3434e4" opacity="0.96"/>
<circle cx="58.7" cy="711.4" r="3.8" fill="#403ef0" opacity="0.92"/>
<circle cx="150.0" cy="737.7" r="3.1" fill="#3434e4" opacity="0.87"/>
<circle cx="175.0" cy="712.6" r="4.5" fill="#4242fc" opacity="0.97"/>
<circle cx="80.1" cy="662.4" r="3.3" fill="#4a48ff" opacity="0.95"/>
<circle cx="33.9" cy="737.6" r="3.6" fill="#3434e4" opacity="0.99"/>
<circle cx="49.0" cy="730.0" r="3.7" fill="#4242fc" opacity="0.94"/>
<circle cx="200.8" cy="760.4" r="3.1" fill="#4a48ff" opacity="0.86"/>
<circle cx="43.4" cy="748.9" r="3.1" fill="#3030d0" opacity="0.98"/>
<circle cx="122.0" cy="755.7" r="4.5" fill="#4a48ff" opacity="0.90"/>
<circle cx="175.9" cy="741.8" r="3.9" fill="#3a3af4" opacity="0.98"/>
<circle cx="183.3" cy="739.8" r="4.6" fill="#3030d0" opacity="0.94"/>
<circle cx="211.5" cy="737.3" r="3.6" fill="#5a44e6" opacity="0.98"/>
<circle cx="187.8" cy="662.3" r="3.5" fill="#3030d0" opacity="0.87"/>
<circle cx="195.8" cy="723.1" r="3.1" fill="#3434e4" opacity="0.96"/>
<circle cx="215.3" cy="703.5" r="3.9" fill="#4242fc" opacity="0.88"/>
<circle cx="190.0" cy="669.5" r="4.5" fill="#4242fc" opacity="0.86"/>
<circle cx="188.5" cy="742.1" r="4.6" fill="#4242fc" opacity="0.98"/>
<circle cx="159.3" cy="749.6" r="4.6" fill="#3a3af4" opacity="0.94"/>
<circle cx="119.6" cy="740.4" r="3.7" fill="#3030d0" opacity="0.96"/>
<circle cx="73.4" cy="755.5" r="4.6" fill="#5840d8" opacity="0.98"/>
<circle cx="69.6" cy="706.4" r="3.8" fill="#403ef0" opacity="0.86"/>
<circle cx="158.5" cy="720.0" r="4.4" fill="#3030d0" opacity="0.90"/>
<circle cx="186.6" cy="757.5" r="3.9" fill="#3030d0" opacity="0.98"/>
<circle cx="179.6" cy="722.6" r="3.4" fill="#3434e4" opacity="0.93"/>
<circle cx="186.9" cy="722.9" r="3.5" fill="#3a3af4" opacity="0.97"/>
<circle cx="41.3" cy="700.0" r="3.5" fill="#3a3af4" opacity="0.88"/>
<circle cx="216.7" cy="722.9" r="4.5" fill="#4242fc" opacity="0.96"/>
<circle cx="177.4" cy="737.2" r="3.5" fill="#3030d0" opacity="1.00"/>
<circle cx="187.8" cy="748.0" r="3.7" fill="#3a3af4" opacity="0.94"/>
<circle cx="152.8" cy="686.4" r="3.3" fill="#3434e4" opacity="0.96"/>
<circle cx="90.3" cy="711.9" r="3.0" fill="#3030d0" opacity="0.90"/>
<circle cx="187.8" cy="728.5" r="4.3" fill="#403ef0" opacity="0.92"/>
<circle cx="127.9" cy="749.3" r="4.2" fill="#3434e4" opacity="0.92"/>
<circle cx="130.4" cy="678.4" r="3.1" fill="#4242fc" opacity="0.85"/>
<circle cx="95.2" cy="663.9" r="3.3" fill="#3434e4" opacity="0.94"/>
<circle cx="131.8" cy="751.1" r="3.6" fill="#7a74c8" opacity="0.96"/>
<circle cx="37.6" cy="694.8" r="3.9" fill="#3a3af4" opacity="0.96"/>
<circle cx="59.9" cy="666.3" r="3.6" fill="#4a48ff" opacity="0.88"/>
<circle cx="47.7" cy="740.9" r="4.5" fill="#3030d0" opacity="0.91"/>
<circle cx="79.0" cy="665.2" r="3.3" fill="#4a48ff" opacity="0.96"/>
<circle cx="209.5" cy="749.0" r="4.1" fill="#4242fc" opacity="0.97"/>
<circle cx="115.4" cy="689.8" r="4.6" fill="#3434e4" opacity="0.91"/>
<circle cx="216.4" cy="713.3" r="3.5" fill="#4242fc" opacity="0.98"/>
<circle cx="168.6" cy="677.0" r="4.0" fill="#3a3af4" opacity="0.97"/>
<circle cx="80.0" cy="697.7" r="3.4" fill="#3a3af4" opacity="0.91"/>
<circle cx="194.4" cy="730.7" r="3.3" fill="#3a3af4" opacity="0.96"/>
<circle cx="197.0" cy="740.4" r="4.1" fill="#3a3af4" opacity="0.88"/>
<circle cx="202.3" cy="733.4" r="3.1" fill="#3434e4" opacity="0.90"/>
<circle cx="108.9" cy="698.1" r="4.5" fill="#3a3af4" opacity="0.88"/>
<circle cx="82.4" cy="678.3" r="3.9" fill="#3030d0" opacity="0.94"/>
<circle cx="198.0" cy="741.2" r="3.7" fill="#4242fc" opacity="0.93"/>
<circle cx="178.6" cy="675.4" r="3.3" fill="#3a3af4" opacity="0.97"/>
<circle cx="165.6" cy="683.2" r="4.0" fill="#4242fc" opacity="0.94"/>
<circle cx="34.3" cy="693.7" r="3.1" fill="#5840d8" opacity="0.92"/>
<circle cx="98.5" cy="711.0" r="4.1" fill="#403ef0" opacity="1.00"/>
<circle cx="148.0" cy="751.3" r="3.8" fill="#3a3af4" opacity="0.89"/>
<circle cx="222.8" cy="726.8" r="4.6" fill="#4242fc" opacity="0.90"/>
<circle cx="87.8" cy="725.6" r="3.7" fill="#4242fc" opacity="0.89"/>
<circle cx="179.6" cy="734.1" r="3.5" fill="#4242fc" opacity="0.90"/>
<circle cx="200.1" cy="701.7" r="4.3" fill="#4242fc" opacity="0.86"/>
<circle cx="154.7" cy="669.9" r="3.8" fill="#4a48ff" opacity="0.95"/>
<circle cx="208.4" cy="741.7" r="3.8" fill="#7a74c8" opacity="0.96"/>
<circle cx="103.1" cy="746.3" r="3.6" fill="#403ef0" opacity="0.95"/>
<circle cx="140.7" cy="759.3" r="3.8" fill="#6a50ee" opacity="0.98"/>
<circle cx="108.3" cy="708.7" r="3.2" fill="#4242fc" opacity="0.88"/>
<circle cx="207.4" cy="723.9" r="3.9" fill="#4a48ff" opacity="0.93"/>
<circle cx="90.6" cy="746.5" r="4.1" fill="#3434e4" opacity="0.87"/>
<circle cx="41.3" cy="734.4" r="3.6" fill="#4242fc" opacity="0.92"/>
<circle cx="214.2" cy="721.2" r="3.5" fill="#4242fc" opacity="0.98"/>
<circle cx="83.7" cy="750.0" r="3.1" fill="#3030d0" opacity="0.88"/>
<circle cx="50.5" cy="667.4" r="4.5" fill="#3030d0" opacity="0.86"/>
<circle cx="149.6" cy="747.9" r="3.5" fill="#4242fc" opacity="0.94"/>
<circle cx="50.8" cy="672.3" r="3.2" fill="#3434e4" opacity="0.99"/>
<circle cx="105.8" cy="747.2" r="3.2" fill="#4242fc" opacity="0.92"/>
<circle cx="92.7" cy="721.4" r="3.8" fill="#3030d0" opacity="0.99"/>
<circle cx="211.6" cy="667.2" r="4.0" fill="#7060e0" opacity="0.99"/>
<circle cx="146.1" cy="728.3" r="4.3" fill="#3434e4" opacity="0.99"/>
<circle cx="91.5" cy="761.8" r="4.2" fill="#5840d8" opacity="0.94"/>
<circle cx="181.9" cy="746.2" r="3.1" fill="#4a48ff" opacity="0.88"/>
<circle cx="199.6" cy="671.6" r="3.6" fill="#4242fc" opacity="0.87"/>
<circle cx="184.0" cy="744.0" r="3.5" fill="#3434e4" opacity="0.93"/>
<circle cx="213.3" cy="682.9" r="4.6" fill="#4242fc" opacity="0.87"/>
<circle cx="144.1" cy="675.0" r="3.5" fill="#403ef0" opacity="0.95"/>
<circle cx="221.2" cy="700.5" r="3.7" fill="#4242fc" opacity="0.88"/>
<circle cx="39.0" cy="744.2" r="4.3" fill="#3a3af4" opacity="0.98"/>
<circle cx="142.5" cy="733.2" r="3.4" fill="#403ef0" opacity="0.90"/>
<circle cx="102.1" cy="717.1" r="3.1" fill="#3a3af4" opacity="0.89"/>
<circle cx="107.0" cy="740.7" r="3.2" fill="#3030d0" opacity="0.85"/>
<circle cx="114.1" cy="740.8" r="4.4" fill="#403ef0" opacity="0.91"/>
<circle cx="101.3" cy="668.0" r="4.4" fill="#3a3af4" opacity="0.92"/>
<circle cx="59.6" cy="663.9" r="3.5" fill="#3a3af4" opacity="0.92"/>
<circle cx="176.1" cy="760.3" r="3.1" fill="#3030d0" opacity="0.86"/>
<circle cx="155.4" cy="716.7" r="4.5" fill="#4a48ff" opacity="0.97"/>
<circle cx="165.9" cy="672.5" r="4.4" fill="#403ef0" opacity="0.95"/>
<circle cx="76.2" cy="692.8" r="3.9" fill="#4a48ff" opacity="0.94"/>
<circle cx="199.2" cy="739.7" r="3.7" fill="#7a74c8" opacity="0.88"/>
<circle cx="178.0" cy="728.9" r="4.1" fill="#4a48ff" opacity="0.96"/>
<circle cx="126.4" cy="744.4" r="3.6" fill="#3434e4" opacity="0.97"/>
<circle cx="179.9" cy="724.4" r="3.7" fill="#5840d8" opacity="0.96"/>
<circle cx="128.0" cy="664.2" r="3.2" fill="#3030d0" opacity="0.95"/>
<circle cx="164.1" cy="755.1" r="4.0" fill="#3030d0" opacity="0.98"/>
<circle cx="86.2" cy="743.5" r="4.0" fill="#5a44e6" opacity="0.91"/>
<circle cx="217.7" cy="746.6" r="4.3" fill="#6a50ee" opacity="0.97"/>
<circle cx="114.0" cy="747.2" r="3.6" fill="#4242fc" opacity="0.97"/>
<circle cx="75.2" cy="756.5" r="4.4" fill="#4242fc" opacity="0.88"/>
<circle cx="167.3" cy="700.3" r="4.2" fill="#3030d0" opacity="0.85"/>
<circle cx="164.4" cy="700.2" r="4.2" fill="#3a3af4" opacity="0.87"/>
<circle cx="196.8" cy="726.7" r="4.1" fill="#3030d0" opacity="0.90"/>
<circle cx="79.0" cy="711.3" r="3.8" fill="#3030d0" opacity="0.95"/>
<circle cx="219.0" cy="746.0" r="3.6" fill="#4a48ff" opacity="0.87"/>
<circle cx="182.3" cy="756.6" r="3.0" fill="#3a3af4" opacity="0.97"/>
<circle cx="118.8" cy="737.3" r="4.3" fill="#4a48ff" opacity="0.85"/>
<circle cx="98.1" cy="666.3" r="3.1" fill="#3434e4" opacity="0.86"/>
<circle cx="99.6" cy="714.8" r="3.4" fill="#403ef0" opacity="0.88"/>
<circle cx="169.1" cy="721.0" r="3.4" fill="#4242fc" opacity="0.87"/>
<circle cx="77.6" cy="678.2" r="3.3" fill="#3030d0" opacity="0.99"/>
<circle cx="184.8" cy="746.1" r="3.6" fill="#4242fc" opacity="0.86"/>
<circle cx="166.5" cy="693.2" r="4.0" fill="#403ef0" opacity="0.92"/>
<circle cx="47.0" cy="669.1" r="3.8" fill="#3030d0" opacity="0.92"/>
<circle cx="147.2" cy="678.8" r="3.2" fill="#5840d8" opacity="0.88"/>
<circle cx="148.3" cy="753.1" r="3.6" fill="#3a3af4" opacity="0.98"/>
<circle cx="152.2" cy="747.8" r="3.3" fill="#403ef0" opacity="0.90"/>
<circle cx="206.3" cy="724.5" r="4.1" fill="#5a44e6" opacity="0.93"/>
<circle cx="133.9" cy="753.9" r="3.1" fill="#3434e4" opacity="0.99"/>
<circle cx="47.2" cy="716.1" r="3.0" fill="#3434e4" opacity="1.00"/>
<circle cx="47.9" cy="738.2" r="3.2" fill="#3030d0" opacity="0.85"/>
<circle cx="40.8" cy="693.8" r="3.6" fill="#403ef0" opacity="0.98"/>
<circle cx="182.8" cy="742.1" r="3.9" fill="#3030d0" opacity="0.89"/>
<circle cx="216.2" cy="753.2" r="3.9" fill="#3030d0" opacity="0.96"/>
<circle cx="202.6" cy="685.1" r="3.3" fill="#4a48ff" opacity="0.98"/>
<circle cx="218.7" cy="728.5" r="3.1" fill="#4a48ff" opacity="0.92"/>
<circle cx="78.9" cy="757.4" r="3.6" fill="#3030d0" opacity="0.88"/>
<circle cx="205.6" cy="748.8" r="4.4" fill="#3434e4" opacity="0.86"/>
<circle cx="112.1" cy="720.8" r="4.2" fill="#403ef0" opacity="0.95"/>
<circle cx="214.4" cy="685.5" r="3.1" fill="#3a3af4" opacity="0.89"/>
<circle cx="145.0" cy="739.0" r="3.2" fill="#403ef0" opacity="0.90"/>
<circle cx="36.2" cy="712.3" r="3.4" fill="#3434e4" opacity="0.94"/>
<circle cx="154.1" cy="740.0" r="4.3" fill="#403ef0" opacity="0.98"/>
<circle cx="50.7" cy="711.0" r="4.1" fill="#5840d8" opacity="0.86"/>
<circle cx="76.8" cy="759.0" r="4.4" fill="#3a3af4" opacity="0.92"/>
<circle cx="65.5" cy="670.2" r="3.5" fill="#3030d0" opacity="0.93"/>
<circle cx="140.2" cy="664.4" r="4.2" fill="#4a48ff" opacity="0.87"/>
<circle cx="136.0" cy="740.0" r="4.0" fill="#4a48ff" opacity="0.96"/>
<circle cx="199.3" cy="717.3" r="3.6" fill="#403ef0" opacity="0.96"/>
<circle cx="81.8" cy="749.9" r="4.6" fill="#3434e4" opacity="0.92"/>
<circle cx="61.7" cy="710.5" r="3.2" fill="#5a44e6" opacity="0.86"/>
<circle cx="42.0" cy="667.1" r="4.2" fill="#3030d0" opacity="0.92"/>
<circle cx="96.4" cy="693.9" r="4.0" fill="#4242fc" opacity="0.97"/>
<circle cx="113.6" cy="733.1" r="3.7" fill="#4242fc" opacity="0.98"/>
<circle cx="94.8" cy="697.3" r="4.0" fill="#3434e4" opacity="0.94"/>
<circle cx="193.8" cy="673.5" r="4.5" fill="#3030d0" opacity="0.93"/>
<circle cx="152.1" cy="678.2" r="3.3" fill="#403ef0" opacity="0.91"/>
<circle cx="125.5" cy="732.6" r="3.1" fill="#4242fc" opacity="0.88"/>
<circle cx="107.5" cy="713.2" r="4.0" fill="#4a48ff" opacity="0.99"/>
<circle cx="46.5" cy="723.3" r="4.5" fill="#4a48ff" opacity="0.99"/>
<circle cx="48.4" cy="668.5" r="3.3" fill="#403ef0" opacity="0.93"/>
<circle cx="81.9" cy="700.5" r="3.6" fill="#403ef0" opacity="0.96"/>
<circle cx="208.9" cy="735.1" r="4.5" fill="#3030d0" opacity="0.97"/>
<circle cx="117.3" cy="730.9" r="3.7" fill="#3030d0" opacity="1.00"/>
<circle cx="34.2" cy="753.8" r="4.0" fill="#3434e4" opacity="0.88"/>
<circle cx="187.9" cy="721.7" r="3.1" fill="#3030d0" opacity="0.99"/>
<circle cx="208.0" cy="752.2" r="3.8" fill="#3030d0" opacity="0.94"/>
<circle cx="150.1" cy="688.1" r="3.1" fill="#3434e4" opacity="0.87"/>
<circle cx="153.5" cy="689.0" r="3.4" fill="#5a44e6" opacity="0.98"/>
<circle cx="209.7" cy="746.4" r="3.2" fill="#4242fc" opacity="0.86"/>
<circle cx="46.3" cy="743.7" r="3.1" fill="#3a3af4" opacity="0.89"/>
<circle cx="40.5" cy="742.0" r="4.3" fill="#4242fc" opacity="0.87"/>
<circle cx="211.1" cy="743.1" r="3.0" fill="#3a3af4" opacity="0.92"/>
<circle cx="30.9" cy="728.5" r="3.9" fill="#3030d0" opacity="0.99"/>
<circle cx="182.8" cy="708.0" r="4.5" fill="#403ef0" opacity="0.95"/>
<circle cx="35.5" cy="749.4" r="4.6" fill="#4242fc" opacity="0.89"/>
<circle cx="103.1" cy="738.2" r="4.5" fill="#4242fc" opacity="0.99"/>
<circle cx="32.2" cy="733.0" r="4.0" fill="#3434e4" opacity="0.91"/>
<circle cx="151.7" cy="673.2" r="3.5" fill="#4242fc" opacity="1.00"/>
<circle cx="103.7" cy="687.7" r="3.8" fill="#4a48ff" opacity="0.96"/>
<circle cx="48.3" cy="742.2" r="3.4" fill="#4242fc" opacity="0.87"/>
<circle cx="215.1" cy="683.7" r="3.6" fill="#3434e4" opacity="0.96"/>
<circle cx="140.6" cy="677.0" r="4.5" fill="#3030d0" opacity="0.93"/>
<circle cx="75.4" cy="704.7" r="4.6" fill="#4242fc" opacity="0.87"/>
<circle cx="180.5" cy="733.9" r="3.8" fill="#7a74c8" opacity="0.96"/>
<circle cx="180.5" cy="715.7" r="3.7" fill="#3a3af4" opacity="0.91"/>
<circle cx="207.6" cy="729.2" r="3.2" fill="#403ef0" opacity="0.99"/>
<circle cx="205.3" cy="728.1" r="3.5" fill="#3a3af4" opacity="0.98"/>
<circle cx="115.3" cy="714.3" r="3.1" fill="#3030d0" opacity="0.89"/>
<circle cx="80.9" cy="750.4" r="4.1" fill="#403ef0" opacity="0.88"/>
<circle cx="90.0" cy="703.7" r="4.0" fill="#4242fc" opacity="0.99"/>
<circle cx="212.4" cy="686.2" r="3.5" fill="#3a3af4" opacity="0.88"/>
<circle cx="187.3" cy="736.8" r="4.0" fill="#4a48ff" opacity="0.89"/>
<circle cx="62.8" cy="665.9" r="4.5" fill="#403ef0" opacity="0.87"/>
<circle cx="86.6" cy="761.1" r="3.4" fill="#3030d0" opacity="0.92"/>
<circle cx="70.2" cy="713.3" r="4.3" fill="#403ef0" opacity="0.88"/>
<circle cx="192.5" cy="757.3" r="4.3" fill="#4a48ff" opacity="0.88"/>
<circle cx="177.2" cy="731.6" r="3.5" fill="#6a50ee" opacity="0.97"/>
<circle cx="166.7" cy="719.9" r="3.9" fill="#7060e0" opacity="0.95"/>
<circle cx="178.9" cy="742.0" r="3.3" fill="#4a48ff" opacity="0.95"/>
<circle cx="149.2" cy="716.2" r="4.1" fill="#3030d0" opacity="0.94"/>
<circle cx="100.9" cy="734.7" r="3.4" fill="#3030d0" opacity="0.95"/>
<circle cx="157.4" cy="665.3" r="3.4" fill="#3434e4" opacity="0.91"/>
<circle cx="179.6" cy="748.7" r="4.5" fill="#3434e4" opacity="0.91"/>
<circle cx="197.0" cy="723.9" r="3.4" fill="#4a48ff" opacity="0.94"/>
<circle cx="106.3" cy="669.2" r="3.8" fill="#3434e4" opacity="0.86"/>
<circle cx="150.0" cy="740.7" r="4.5" fill="#3434e4" opacity="0.99"/>
<circle cx="170.3" cy="738.2" r="4.4" fill="#3a3af4" opacity="0.86"/>
<circle cx="171.6" cy="732.8" r="3.9" fill="#3a3af4" opacity="0.98"/>
<circle cx="123.3" cy="679.3" r="4.0" fill="#3434e4" opacity="0.93"/>
<circle cx="187.7" cy="748.9" r="4.5" fill="#4242fc" opacity="0.86"/>
<circle cx="213.7" cy="663.3" r="4.3" fill="#3434e4" opacity="0.95"/>
<circle cx="59.5" cy="668.8" r="3.7" fill="#4242fc" opacity="0.86"/>
<circle cx="147.4" cy="683.7" r="4.4" fill="#3a3af4" opacity="0.97"/>
<circle cx="77.8" cy="669.3" r="4.4" fill="#403ef0" opacity="0.99"/>
<circle cx="176.4" cy="719.6" r="3.1" fill="#4242fc" opacity="0.95"/>
<circle cx="168.4" cy="684.1" r="3.9" fill="#4a48ff" opacity="0.96"/>
<circle cx="160.5" cy="762.1" r="4.5" fill="#3030d0" opacity="0.92"/>
<circle cx="159.3" cy="708.8" r="3.2" fill="#4a48ff" opacity="0.93"/>
<circle cx="146.6" cy="674.7" r="3.2" fill="#403ef0" opacity="0.88"/>
<circle cx="126.1" cy="668.2" r="4.1" fill="#3434e4" opacity="0.94"/>
<circle cx="113.8" cy="762.2" r="3.7" fill="#4242fc" opacity="0.93"/>
<circle cx="173.9" cy="757.0" r="3.0" fill="#4a48ff" opacity="0.91"/>
<circle cx="159.8" cy="701.0" r="4.6" fill="#3a3af4" opacity="0.99"/>
</g>
<g filter="url(#blur2)">
<path d="M 77.9 686.0 L 77.1 688.1 L 76.1 690.1 L 75.0 691.9 L 74.0 693.6 L 73.0 695.4 L 71.9 697.2 L 70.6 699.0 L 68.9 700.6 L 67.0 702.0 L 64.8 703.0 L 62.4 703.6 L 60.0 703.7 L 57.6 703.5 L 55.2 703.0 L 52.9 702.2 L 50.7 701.2 L 48.6 700.0 L 46.7 698.5 L 45.2 696.7 L 44.0 694.7 L 43.3 692.5 L 42.9 690.3 L 42.9 688.1 L 43.1 686.0 L 43.3 683.9 L 43.6 681.8 L 44.0 679.7 L 44.6 677.6 L 45.6 675.6 L 47.0 673.7 L 48.7 672.1 L 50.8 670.9 L 53.0 670.1 L 55.4 669.7 L 57.7 669.6 L 60.0 669.6 L 62.3 669.8 L 64.5 670.1 L 66.8 670.5 L 69.1 671.1 L 71.4 672.0 L 73.5 673.2 L 75.4 674.8 L 76.9 676.8 L 77.9 679.0 L 78.4 681.3 L 78.4 683.7 Z" fill="#6060cc"/>
<path d="M 70.8 686.0 L 71.3 687.3 L 71.5 688.7 L 71.3 690.2 L 70.9 691.6 L 70.3 692.9 L 69.4 694.2 L 68.4 695.4 L 67.1 696.3 L 65.6 696.9 L 64.0 697.0 L 62.4 696.6 L 61.0 695.8 L 59.8 695.0 L 58.7 694.4 L 57.6 694.0 L 56.4 693.8 L 55.0 693.7 L 53.6 693.3 L 52.4 692.5 L 51.7 691.3 L 51.6 689.8 L 51.9 688.4 L 52.4 687.1 L 52.6 686.0 L 52.4 684.9 L 51.8 683.6 L 51.0 682.0 L 50.5 680.1 L 50.5 678.2 L 51.4 676.6 L 52.9 675.7 L 54.8 675.6 L 56.7 676.0 L 58.4 676.5 L 59.8 677.0 L 61.0 677.0 L 62.2 676.8 L 63.6 676.5 L 65.0 676.5 L 66.4 676.9 L 67.5 677.8 L 68.2 679.0 L 68.6 680.3 L 68.8 681.6 L 69.1 682.7 L 69.6 683.8 L 70.2 684.8 Z" fill="#5050ee" opacity="0.9"/>
<path d="M 77.9 686.0 L 77.1 688.1 L 76.1 690.1 L 75.0 691.9 L 74.0 693.6 L 73.0 695.4 L 71.9 697.2 L 70.6 699.0 L 68.9 700.6 L 67.0 702.0 L 64.8 703.0 L 62.4 703.6 L 60.0 703.7 L 57.6 703.5 L 55.2 703.0 L 52.9 702.2 L 50.7 701.2 L 48.6 700.0" fill="none" stroke="#3edc4a" stroke-width="1.0" stroke-linecap="round" stroke-linejoin="round" opacity="0.4"/>
<path d="M 88.0 735.0 L 87.2 737.7 L 86.3 740.2 L 85.4 742.6 L 84.4 744.9 L 83.3 747.3 L 81.9 749.6 L 80.1 751.6 L 78.1 753.3 L 75.7 754.5 L 73.2 755.2 L 70.6 755.6 L 68.0 755.8 L 65.4 755.8 L 62.8 755.5 L 60.2 754.9 L 57.7 753.8 L 55.4 752.2 L 53.5 750.2 L 52.1 747.8 L 50.9 745.3 L 50.0 742.8 L 49.2 740.3 L 48.5 737.7 L 47.8 735.0 L 47.5 732.2 L 47.7 729.3 L 48.6 726.6 L 50.0 724.1 L 52.0 722.1 L 54.2 720.5 L 56.4 719.2 L 58.6 718.0 L 60.8 716.9 L 63.1 715.8 L 65.5 714.9 L 68.0 714.3 L 70.6 714.1 L 73.2 714.5 L 75.8 715.3 L 78.2 716.5 L 80.5 717.9 L 82.6 719.6 L 84.6 721.6 L 86.3 723.9 L 87.5 726.5 L 88.2 729.3 L 88.3 732.2 Z" fill="#7472a8"/>
<path d="M 81.6 735.0 L 80.3 736.6 L 79.0 737.9 L 77.9 739.0 L 77.3 740.2 L 76.9 741.6 L 76.6 743.2 L 76.0 744.9 L 75.0 746.3 L 73.7 747.2 L 72.1 747.6 L 70.5 747.6 L 69.0 747.4 L 67.5 747.2 L 66.0 747.0 L 64.5 746.8 L 63.0 746.3 L 61.6 745.5 L 60.5 744.2 L 59.7 742.7 L 59.3 741.1 L 58.9 739.5 L 58.5 738.1 L 57.9 736.6 L 57.2 735.0 L 56.7 733.2 L 56.5 731.4 L 57.0 729.6 L 58.0 728.1 L 59.4 727.0 L 60.9 726.3 L 62.4 725.7 L 63.8 725.1 L 65.0 724.5 L 66.2 723.7 L 67.6 723.1 L 69.0 722.8 L 70.5 722.9 L 71.8 723.5 L 73.1 724.2 L 74.3 725.0 L 75.6 725.6 L 77.2 726.1 L 78.9 726.8 L 80.6 727.7 L 82.0 729.2 L 82.6 731.0 L 82.5 733.1 Z" fill="#5650dc" opacity="0.9"/>
<path d="M 70.6 755.6 L 68.0 755.8 L 65.4 755.8 L 62.8 755.5 L 60.2 754.9 L 57.7 753.8 L 55.4 752.2 L 53.5 750.2 L 52.1 747.8 L 50.9 745.3 L 50.0 742.8 L 49.2 740.3 L 48.5 737.7 L 47.8 735.0 L 47.5 732.2 L 47.7 729.3 L 48.6 726.6 L 50.0 724.1 L 52.0 722.1 L 54.2 720.5 L 56.4 719.2 L 58.6 718.0 L 60.8 716.9 L 63.1 715.8 L 65.5 714.9" fill="none" stroke="#3edc4a" stroke-width="2.2" stroke-linecap="round" stroke-linejoin="round" opacity="0.9"/>
<path d="M 65.5 714.9 L 68.0 714.3 L 70.6 714.1 L 73.2 714.5 L 75.8 715.3 L 78.2 716.5" fill="none" stroke="#3edc4a" stroke-width="1.2" stroke-linecap="round" stroke-linejoin="round" opacity="0.4"/>
<path d="M 155.1 702.0 L 155.0 704.8 L 154.3 707.4 L 153.0 709.9 L 151.4 712.2 L 149.7 714.4 L 147.9 716.5 L 145.9 718.6 L 143.7 720.6 L 141.2 722.3 L 138.3 723.4 L 135.1 723.8 L 132.0 723.5 L 129.0 722.6 L 126.3 721.5 L 123.7 720.3 L 121.1 719.2 L 118.4 718.1 L 115.8 716.8 L 113.3 715.1 L 111.2 712.9 L 109.9 710.4 L 109.3 707.5 L 109.3 704.7 L 109.6 702.0 L 110.0 699.4 L 110.4 696.7 L 110.8 694.0 L 111.6 691.2 L 112.9 688.6 L 115.0 686.4 L 117.6 684.8 L 120.5 683.8 L 123.5 683.2 L 126.4 682.8 L 129.2 682.5 L 132.0 682.0 L 134.9 681.6 L 138.0 681.4 L 141.2 681.8 L 144.1 682.8 L 146.7 684.6 L 148.7 686.8 L 150.3 689.2 L 151.6 691.7 L 152.7 694.2 L 153.8 696.7 L 154.6 699.3 Z" fill="#767eb2"/>
<path d="M 145.0 702.0 L 145.3 703.5 L 145.4 705.1 L 145.2 706.8 L 144.6 708.3 L 143.7 709.7 L 142.4 710.9 L 141.0 711.8 L 139.4 712.5 L 137.8 713.0 L 136.2 713.4 L 134.6 713.8 L 133.0 714.1 L 131.3 714.4 L 129.5 714.5 L 127.6 714.3 L 125.8 713.8 L 124.2 712.9 L 122.7 711.7 L 121.6 710.2 L 120.8 708.6 L 120.2 707.0 L 119.7 705.4 L 119.4 703.7 L 119.2 702.0 L 119.3 700.3 L 119.7 698.6 L 120.5 697.1 L 121.7 695.9 L 123.3 694.9 L 124.9 694.3 L 126.4 693.9 L 127.8 693.5 L 129.0 692.8 L 130.1 691.8 L 131.4 690.5 L 133.0 689.1 L 135.0 687.9 L 137.2 687.4 L 139.4 687.5 L 141.3 688.4 L 142.8 690.0 L 143.7 691.9 L 144.2 693.9 L 144.3 695.8 L 144.3 697.6 L 144.4 699.1 L 144.7 700.5 Z" fill="#5650e0" opacity="0.9"/>
<path d="M 129.0 722.6 L 126.3 721.5 L 123.7 720.3 L 121.1 719.2 L 118.4 718.1 L 115.8 716.8 L 113.3 715.1 L 111.2 712.9 L 109.9 710.4 L 109.3 707.5 L 109.3 704.7 L 109.6 702.0 L 110.0 699.4 L 110.4 696.7 L 110.8 694.0 L 111.6 691.2 L 112.9 688.6 L 115.0 686.4 L 117.6 684.8 L 120.5 683.8" fill="none" stroke="#3edc4a" stroke-width="2.6" stroke-linecap="round" stroke-linejoin="round" opacity="0.95"/>
<path d="M 153.0 709.9 L 151.4 712.2 L 149.7 714.4 L 147.9 716.5 L 145.9 718.6 L 143.7 720.6 L 141.2 722.3 L 138.3 723.4 L 135.1 723.8" fill="none" stroke="#3edc4a" stroke-width="2.0" stroke-linecap="round" stroke-linejoin="round" opacity="0.75"/>
<path d="M 144.1 682.8 L 146.7 684.6 L 148.7 686.8 L 150.3 689.2 L 151.6 691.7 L 152.7 694.2 L 153.8 696.7" fill="none" stroke="#3edc4a" stroke-width="1.4" stroke-linecap="round" stroke-linejoin="round" opacity="0.5"/>
<path d="M 202.7 692.0 L 202.6 694.1 L 202.3 696.1 L 201.7 698.2 L 200.8 700.1 L 199.5 701.9 L 197.9 703.5 L 196.0 704.8 L 194.0 705.9 L 191.9 706.7 L 189.6 707.4 L 187.3 707.8 L 185.0 707.9 L 182.7 707.8 L 180.4 707.3 L 178.2 706.6 L 176.1 705.6 L 174.2 704.5 L 172.5 703.1 L 170.8 701.7 L 169.4 700.0 L 168.2 698.2 L 167.3 696.2 L 166.7 694.1 L 166.6 692.0 L 166.9 689.9 L 167.5 687.8 L 168.3 685.9 L 169.4 684.0 L 170.7 682.3 L 172.3 680.7 L 174.0 679.3 L 176.0 678.1 L 178.1 677.3 L 180.4 676.7 L 182.7 676.5 L 185.0 676.4 L 187.3 676.6 L 189.6 676.9 L 191.8 677.3 L 194.1 678.0 L 196.2 679.0 L 198.1 680.4 L 199.7 682.0 L 200.9 683.8 L 201.8 685.8 L 202.3 687.9 L 202.6 689.9 Z" fill="#7888b8"/>
<path d="M 197.5 692.0 L 197.2 693.4 L 196.4 694.6 L 195.4 695.6 L 194.4 696.5 L 193.6 697.4 L 192.9 698.4 L 192.3 699.6 L 191.5 700.8 L 190.4 701.8 L 189.1 702.5 L 187.5 702.5 L 186.0 702.0 L 184.7 701.2 L 183.6 700.2 L 182.7 699.3 L 181.8 698.7 L 180.7 698.4 L 179.4 698.1 L 178.0 697.6 L 176.7 696.9 L 175.6 696.0 L 174.9 694.7 L 174.5 693.4 L 174.5 692.0 L 174.7 690.6 L 175.1 689.3 L 175.6 688.0 L 176.4 686.9 L 177.4 685.9 L 178.5 685.1 L 179.8 684.6 L 181.1 684.2 L 182.4 683.9 L 183.6 683.6 L 184.7 683.3 L 186.0 682.9 L 187.3 682.7 L 188.7 682.7 L 190.0 683.1 L 191.2 683.7 L 192.2 684.6 L 193.1 685.5 L 194.0 686.4 L 194.9 687.3 L 195.9 688.2 L 196.8 689.3 L 197.4 690.6 Z" fill="#5e5ce0" opacity="0.9"/>
<path d="M 194.0 705.9 L 191.9 706.7 L 189.6 707.4 L 187.3 707.8 L 185.0 707.9 L 182.7 707.8 L 180.4 707.3 L 178.2 706.6 L 176.1 705.6 L 174.2 704.5 L 172.5 703.1 L 170.8 701.7 L 169.4 700.0 L 168.2 698.2 L 167.3 696.2 L 166.7 694.1 L 166.6 692.0 L 166.9 689.9 L 167.5 687.8 L 168.3 685.9 L 169.4 684.0" fill="none" stroke="#3edc4a" stroke-width="2.0" stroke-linecap="round" stroke-linejoin="round" opacity="0.85"/>
<path d="M 194.1 678.0 L 196.2 679.0 L 198.1 680.4 L 199.7 682.0 L 200.9 683.8 L 201.8 685.8 L 202.3 687.9" fill="none" stroke="#3edc4a" stroke-width="1.4" stroke-linecap="round" stroke-linejoin="round" opacity="0.5"/>
<path d="M 110 681 L 122 676 L 138 674 L 150 669" fill="none" stroke="#dcdcec" stroke-width="1.6" stroke-linecap="round" stroke-linejoin="round" opacity="0.8"/>
<path d="M 178 668 Q 200 667 221 680" fill="none" stroke="#e8e4f4" stroke-width="1.5" stroke-linecap="round" stroke-linejoin="round" opacity="0.8"/>
<path d="M 68 672 L 95 667" fill="none" stroke="#a8a8c8" stroke-width="2.0" stroke-linecap="round" stroke-linejoin="round" opacity="0.6"/>
</g>
<line x1="205.0" y1="753.6" x2="218.5" y2="753.6" stroke="#fff" stroke-width="1.2"/>
</g>
<rect x="34.3" y="665.5" width="186.7" height="93.3" fill="none" stroke="#111" stroke-width="1"/>
<clipPath id="clip2"><rect x="33.8" y="764.6" width="187.7" height="94.6"/></clipPath>
<g clip-path="url(#clip2)">
<rect x="33.8" y="764.6" width="187.7" height="94.6" fill="#03020a"/>
<g filter="url(#blur3)">
<ellipse cx="100" cy="778" rx="70" ry="12" fill="#6a60b0" opacity="0.6"/>
<ellipse cx="190" cy="848" rx="30" ry="12" fill="#7068c0" opacity="0.6"/>
</g>
<g filter="url(#blur1)">
<circle cx="216.0" cy="857.0" r="3.1" fill="#403ef0" opacity="0.97"/>
<circle cx="205.4" cy="849.2" r="4.5" fill="#4a48ff" opacity="0.98"/>
<circle cx="76.5" cy="764.0" r="3.2" fill="#3030d0" opacity="0.95"/>
<circle cx="173.1" cy="852.8" r="4.3" fill="#7060e0" opacity="0.87"/>
<circle cx="176.9" cy="833.5" r="3.8" fill="#7060e0" opacity="0.93"/>
<circle cx="201.8" cy="852.1" r="3.9" fill="#403ef0" opacity="0.92"/>
<circle cx="192.5" cy="849.8" r="4.2" fill="#5840d8" opacity="0.99"/>
<circle cx="157.0" cy="820.7" r="3.3" fill="#403ef0" opacity="0.94"/>
<circle cx="175.1" cy="767.5" r="3.4" fill="#5a44e6" opacity="0.96"/>
<circle cx="57.2" cy="788.3" r="4.5" fill="#5a44e6" opacity="0.86"/>
<circle cx="100.6" cy="786.7" r="3.2" fill="#5a44e6" opacity="0.96"/>
<circle cx="188.3" cy="777.4" r="4.1" fill="#5a44e6" opacity="0.97"/>
<circle cx="78.8" cy="859.3" r="4.5" fill="#403ef0" opacity="0.87"/>
<circle cx="96.1" cy="764.7" r="4.2" fill="#3434e4" opacity="0.96"/>
<circle cx="197.9" cy="832.6" r="3.4" fill="#3434e4" opacity="0.98"/>
<circle cx="131.2" cy="840.2" r="3.5" fill="#3434e4" opacity="0.89"/>
<circle cx="148.2" cy="803.8" r="3.9" fill="#5a44e6" opacity="0.89"/>
<circle cx="56.3" cy="778.8" r="3.4" fill="#403ef0" opacity="0.99"/>
<circle cx="223.4" cy="785.0" r="3.4" fill="#3030d0" opacity="0.97"/>
<circle cx="60.1" cy="800.3" r="3.8" fill="#5a44e6" opacity="0.86"/>
<circle cx="66.0" cy="784.9" r="3.8" fill="#5840d8" opacity="0.93"/>
<circle cx="201.5" cy="855.0" r="4.5" fill="#4a48ff" opacity="0.90"/>
<circle cx="86.9" cy="860.5" r="3.0" fill="#3a3af4" opacity="0.87"/>
<circle cx="190.7" cy="843.3" r="4.0" fill="#7a74c8" opacity="0.94"/>
<circle cx="31.8" cy="764.0" r="4.2" fill="#7060e0" opacity="0.88"/>
<circle cx="141.5" cy="801.0" r="4.2" fill="#5a44e6" opacity="0.89"/>
<circle cx="95.6" cy="800.9" r="3.2" fill="#4a48ff" opacity="0.97"/>
<circle cx="170.9" cy="811.7" r="3.7" fill="#3434e4" opacity="0.92"/>
<circle cx="198.5" cy="834.0" r="3.7" fill="#5840d8" opacity="0.91"/>
<circle cx="44.6" cy="779.3" r="4.3" fill="#3a3af4" opacity="0.99"/>
<circle cx="162.8" cy="843.1" r="4.6" fill="#5840d8" opacity="0.92"/>
<circle cx="132.3" cy="772.9" r="4.5" fill="#3a3af4" opacity="0.90"/>
<circle cx="63.6" cy="777.4" r="3.4" fill="#3434e4" opacity="0.97"/>
<circle cx="141.9" cy="776.2" r="3.0" fill="#403ef0" opacity="0.88"/>
<circle cx="178.3" cy="847.3" r="4.0" fill="#7060e0" opacity="1.00"/>
<circle cx="153.8" cy="762.8" r="4.1" fill="#403ef0" opacity="0.88"/>
<circle cx="49.1" cy="802.1" r="3.9" fill="#6a50ee" opacity="0.98"/>
<circle cx="144.4" cy="780.9" r="3.2" fill="#4a48ff" opacity="0.92"/>
<circle cx="130.3" cy="779.1" r="4.6" fill="#3434e4" opacity="0.85"/>
<circle cx="124.7" cy="829.5" r="3.4" fill="#3a3af4" opacity="1.00"/>
<circle cx="192.2" cy="834.0" r="3.8" fill="#403ef0" opacity="0.89"/>
<circle cx="195.6" cy="841.9" r="3.5" fill="#7060e0" opacity="0.93"/>
<circle cx="132.0" cy="767.8" r="4.1" fill="#3434e4" opacity="0.88"/>
<circle cx="99.8" cy="795.3" r="3.8" fill="#4a48ff" opacity="0.98"/>
<circle cx="50.1" cy="785.5" r="4.1" fill="#5840d8" opacity="0.87"/>
<circle cx="57.0" cy="788.6" r="3.6" fill="#403ef0" opacity="0.90"/>
<circle cx="201.0" cy="854.7" r="4.1" fill="#403ef0" opacity="0.91"/>
<circle cx="169.1" cy="832.5" r="4.6" fill="#3030d0" opacity="0.94"/>
<circle cx="160.7" cy="798.6" r="3.3" fill="#3434e4" opacity="0.92"/>
<circle cx="47.8" cy="854.5" r="3.6" fill="#3a3af4" opacity="0.90"/>
<circle cx="135.9" cy="785.4" r="3.6" fill="#6a50ee" opacity="0.90"/>
<circle cx="218.8" cy="840.5" r="3.2" fill="#5a44e6" opacity="0.90"/>
<circle cx="78.5" cy="785.8" r="3.5" fill="#7a74c8" opacity="0.86"/>
<circle cx="58.7" cy="847.2" r="4.2" fill="#7a74c8" opacity="0.94"/>
<circle cx="168.4" cy="857.9" r="3.1" fill="#4a48ff" opacity="0.94"/>
<circle cx="92.2" cy="845.9" r="3.9" fill="#4a48ff" opacity="1.00"/>
<circle cx="55.6" cy="855.9" r="4.5" fill="#5840d8" opacity="0.92"/>
<circle cx="167.8" cy="787.0" r="3.4" fill="#7060e0" opacity="0.95"/>
<circle cx="139.0" cy="775.5" r="3.1" fill="#5a44e6" opacity="0.97"/>
<circle cx="56.3" cy="773.3" r="3.3" fill="#6a50ee" opacity="0.94"/>
<circle cx="96.0" cy="826.7" r="4.5" fill="#403ef0" opacity="0.87"/>
<circle cx="71.5" cy="799.6" r="3.7" fill="#7060e0" opacity="0.90"/>
<circle cx="88.8" cy="771.6" r="3.4" fill="#4a48ff" opacity="1.00"/>
<circle cx="166.2" cy="827.8" r="3.9" fill="#6a50ee" opacity="0.91"/>
<circle cx="38.4" cy="775.5" r="3.4" fill="#3030d0" opacity="0.86"/>
<circle cx="180.4" cy="844.4" r="4.0" fill="#6a50ee" opacity="1.00"/>
<circle cx="208.4" cy="838.3" r="4.1" fill="#403ef0" opacity="0.89"/>
<circle cx="166.6" cy="789.5" r="3.9" fill="#7060e0" opacity="0.95"/>
<circle cx="213.7" cy="763.2" r="3.4" fill="#3030d0" opacity="0.93"/>
<circle cx="180.4" cy="831.3" r="3.7" fill="#5840d8" opacity="0.91"/>
<circle cx="96.2" cy="768.7" r="4.0" fill="#7a74c8" opacity="0.95"/>
<circle cx="142.5" cy="774.5" r="4.4" fill="#3434e4" opacity="0.86"/>
<circle cx="71.9" cy="777.9" r="4.2" fill="#4a48ff" opacity="0.99"/>
<circle cx="132.3" cy="785.2" r="3.1" fill="#4242fc" opacity="0.99"/>
<circle cx="172.6" cy="844.5" r="3.7" fill="#7060e0" opacity="0.89"/>
<circle cx="77.4" cy="767.1" r="4.4" fill="#3030d0" opacity="0.95"/>
<circle cx="41.2" cy="832.7" r="3.8" fill="#7a74c8" opacity="0.90"/>
<circle cx="213.3" cy="811.2" r="3.7" fill="#3434e4" opacity="0.85"/>
<circle cx="123.5" cy="774.6" r="3.5" fill="#3030d0" opacity="0.87"/>
<circle cx="82.8" cy="766.3" r="4.2" fill="#3a3af4" opacity="0.94"/>
<circle cx="51.5" cy="840.5" r="4.5" fill="#4a48ff" opacity="0.98"/>
<circle cx="129.5" cy="858.9" r="3.5" fill="#3a3af4" opacity="0.90"/>
<circle cx="219.7" cy="815.4" r="4.1" fill="#3030d0" opacity="0.94"/>
<circle cx="183.9" cy="778.0" r="3.9" fill="#3434e4" opacity="0.95"/>
<circle cx="87.9" cy="852.6" r="3.4" fill="#4242fc" opacity="0.91"/>
<circle cx="146.4" cy="768.4" r="3.3" fill="#7060e0" opacity="0.86"/>
<circle cx="196.0" cy="820.1" r="3.8" fill="#4a48ff" opacity="0.91"/>
<circle cx="182.4" cy="777.2" r="4.2" fill="#7a74c8" opacity="0.88"/>
<circle cx="189.3" cy="856.8" r="4.3" fill="#4a48ff" opacity="0.87"/>
<circle cx="146.0" cy="774.5" r="3.0" fill="#4242fc" opacity="0.95"/>
<circle cx="141.2" cy="786.8" r="3.7" fill="#5840d8" opacity="0.97"/>
<circle cx="99.2" cy="825.2" r="3.6" fill="#4a48ff" opacity="0.90"/>
<circle cx="193.5" cy="859.5" r="3.9" fill="#4242fc" opacity="0.92"/>
<circle cx="150.6" cy="852.9" r="4.4" fill="#5840d8" opacity="0.99"/>
<circle cx="179.1" cy="831.6" r="4.3" fill="#6a50ee" opacity="0.89"/>
<circle cx="204.4" cy="779.1" r="4.1" fill="#4242fc" opacity="0.91"/>
<circle cx="207.4" cy="819.0" r="4.0" fill="#3434e4" opacity="0.95"/>
<circle cx="160.1" cy="801.9" r="3.7" fill="#5840d8" opacity="0.90"/>
<circle cx="209.9" cy="840.4" r="3.8" fill="#4242fc" opacity="0.92"/>
<circle cx="49.1" cy="763.5" r="3.8" fill="#3a3af4" opacity="0.85"/>
<circle cx="94.3" cy="795.2" r="3.6" fill="#4a48ff" opacity="0.92"/>
<circle cx="141.8" cy="785.9" r="4.6" fill="#6a50ee" opacity="0.93"/>
<circle cx="156.5" cy="824.4" r="3.7" fill="#5840d8" opacity="0.94"/>
<circle cx="129.7" cy="777.9" r="3.8" fill="#6a50ee" opacity="0.95"/>
<circle cx="171.5" cy="822.7" r="3.8" fill="#6a50ee" opacity="0.99"/>
<circle cx="150.3" cy="763.8" r="3.2" fill="#5840d8" opacity="0.92"/>
<circle cx="54.4" cy="858.0" r="4.3" fill="#4a48ff" opacity="0.99"/>
<circle cx="154.9" cy="788.5" r="3.9" fill="#3030d0" opacity="0.96"/>
<circle cx="87.4" cy="853.7" r="3.9" fill="#6a50ee" opacity="0.88"/>
<circle cx="165.7" cy="807.8" r="4.6" fill="#3434e4" opacity="0.95"/>
<circle cx="60.9" cy="854.4" r="3.2" fill="#5a44e6" opacity="0.93"/>
<circle cx="216.2" cy="835.3" r="3.9" fill="#5a44e6" opacity="0.90"/>
<circle cx="59.8" cy="769.0" r="3.1" fill="#4a48ff" opacity="1.00"/>
<circle cx="161.9" cy="810.0" r="3.1" fill="#403ef0" opacity="0.87"/>
<circle cx="189.8" cy="851.9" r="4.4" fill="#5840d8" opacity="0.97"/>
<circle cx="162.2" cy="854.4" r="4.6" fill="#6a50ee" opacity="0.97"/>
<circle cx="53.6" cy="848.4" r="4.5" fill="#6a50ee" opacity="0.95"/>
<circle cx="141.3" cy="823.9" r="4.6" fill="#3a3af4" opacity="0.93"/>
<circle cx="109.5" cy="772.3" r="3.6" fill="#7a74c8" opacity="0.87"/>
<circle cx="39.2" cy="778.4" r="4.2" fill="#4a48ff" opacity="0.87"/>
<circle cx="51.0" cy="791.8" r="3.0" fill="#5a44e6" opacity="0.98"/>
<circle cx="104.4" cy="793.2" r="3.4" fill="#5840d8" opacity="0.94"/>
<circle cx="217.7" cy="856.8" r="3.9" fill="#7060e0" opacity="0.96"/>
<circle cx="132.9" cy="819.4" r="3.1" fill="#7060e0" opacity="0.98"/>
<circle cx="119.9" cy="770.6" r="3.8" fill="#5840d8" opacity="0.87"/>
<circle cx="173.1" cy="860.6" r="4.6" fill="#3030d0" opacity="0.91"/>
<circle cx="188.2" cy="848.7" r="3.7" fill="#3a3af4" opacity="0.96"/>
<circle cx="162.4" cy="783.7" r="3.1" fill="#4a48ff" opacity="0.93"/>
<circle cx="184.1" cy="851.7" r="3.9" fill="#3030d0" opacity="0.98"/>
<circle cx="137.6" cy="822.5" r="4.0" fill="#3030d0" opacity="0.99"/>
<circle cx="40.7" cy="840.4" r="3.5" fill="#5a44e6" opacity="0.92"/>
<circle cx="66.5" cy="766.4" r="4.6" fill="#7a74c8" opacity="0.98"/>
<circle cx="40.0" cy="793.9" r="3.4" fill="#7060e0" opacity="0.87"/>
<circle cx="165.3" cy="791.4" r="3.3" fill="#4a48ff" opacity="0.98"/>
<circle cx="43.6" cy="815.1" r="3.0" fill="#7a74c8" opacity="0.96"/>
<circle cx="50.8" cy="762.3" r="4.2" fill="#3030d0" opacity="0.85"/>
<circle cx="160.8" cy="827.7" r="3.4" fill="#3030d0" opacity="0.96"/>
<circle cx="136.1" cy="764.9" r="3.4" fill="#6a50ee" opacity="0.97"/>
<circle cx="76.6" cy="844.5" r="4.3" fill="#5a44e6" opacity="0.94"/>
<circle cx="155.8" cy="789.9" r="4.4" fill="#6a50ee" opacity="0.94"/>
<circle cx="216.5" cy="861.1" r="4.1" fill="#7060e0" opacity="0.89"/>
<circle cx="157.3" cy="791.0" r="4.5" fill="#3a3af4" opacity="0.96"/>
<circle cx="86.4" cy="852.8" r="4.0" fill="#3a3af4" opacity="0.99"/>
<circle cx="209.6" cy="825.5" r="3.1" fill="#5a44e6" opacity="0.87"/>
<circle cx="114.7" cy="781.8" r="3.5" fill="#7a74c8" opacity="0.89"/>
<circle cx="186.7" cy="854.6" r="4.3" fill="#6a50ee" opacity="0.89"/>
<circle cx="183.7" cy="855.8" r="3.3" fill="#3a3af4" opacity="0.85"/>
<circle cx="69.5" cy="784.4" r="3.4" fill="#3434e4" opacity="0.87"/>
<circle cx="146.3" cy="781.4" r="3.3" fill="#3a3af4" opacity="0.95"/>
<circle cx="206.2" cy="842.2" r="3.0" fill="#3a3af4" opacity="0.98"/>
<circle cx="218.6" cy="843.9" r="3.1" fill="#3434e4" opacity="0.97"/>
<circle cx="222.8" cy="789.5" r="3.2" fill="#4242fc" opacity="0.98"/>
<circle cx="74.3" cy="847.8" r="3.8" fill="#3434e4" opacity="0.96"/>
<circle cx="42.4" cy="765.8" r="4.5" fill="#403ef0" opacity="0.98"/>
<circle cx="155.5" cy="848.5" r="4.1" fill="#4a48ff" opacity="0.89"/>
<circle cx="118.1" cy="792.1" r="3.7" fill="#6a50ee" opacity="0.98"/>
<circle cx="77.9" cy="773.5" r="3.9" fill="#7060e0" opacity="0.94"/>
<circle cx="180.0" cy="767.4" r="4.3" fill="#3030d0" opacity="0.96"/>
<circle cx="118.3" cy="838.1" r="3.5" fill="#3030d0" opacity="0.95"/>
<circle cx="133.5" cy="844.1" r="3.7" fill="#4242fc" opacity="0.93"/>
<circle cx="36.1" cy="834.7" r="4.2" fill="#7060e0" opacity="0.90"/>
<circle cx="146.9" cy="819.7" r="3.9" fill="#5840d8" opacity="0.96"/>
<circle cx="41.3" cy="842.9" r="4.0" fill="#5a44e6" opacity="0.85"/>
<circle cx="163.2" cy="801.7" r="3.1" fill="#3a3af4" opacity="0.90"/>
<circle cx="133.5" cy="786.3" r="4.3" fill="#5840d8" opacity="0.92"/>
<circle cx="173.8" cy="854.2" r="3.7" fill="#3030d0" opacity="0.89"/>
<circle cx="177.7" cy="857.9" r="3.0" fill="#5840d8" opacity="0.88"/>
<circle cx="96.5" cy="772.8" r="3.5" fill="#4242fc" opacity="0.89"/>
<circle cx="138.4" cy="805.1" r="3.6" fill="#3030d0" opacity="0.87"/>
<circle cx="46.9" cy="779.0" r="4.1" fill="#5a44e6" opacity="0.95"/>
<circle cx="103.5" cy="788.8" r="4.4" fill="#5a44e6" opacity="0.88"/>
<circle cx="93.9" cy="789.5" r="4.1" fill="#7060e0" opacity="0.94"/>
<circle cx="35.0" cy="771.9" r="3.2" fill="#5840d8" opacity="0.88"/>
<circle cx="109.5" cy="764.8" r="4.3" fill="#6a50ee" opacity="0.92"/>
<circle cx="167.6" cy="843.5" r="3.7" fill="#7060e0" opacity="0.95"/>
<circle cx="207.1" cy="845.8" r="3.8" fill="#3434e4" opacity="0.88"/>
<circle cx="208.9" cy="825.4" r="3.2" fill="#6a50ee" opacity="0.90"/>
<circle cx="68.7" cy="856.4" r="3.8" fill="#3434e4" opacity="0.93"/>
<circle cx="59.1" cy="780.6" r="3.8" fill="#4a48ff" opacity="0.94"/>
<circle cx="213.0" cy="807.5" r="3.7" fill="#4242fc" opacity="0.99"/>
<circle cx="75.7" cy="794.0" r="3.7" fill="#3434e4" opacity="0.95"/>
<circle cx="163.1" cy="830.4" r="4.2" fill="#403ef0" opacity="0.97"/>
<circle cx="205.2" cy="818.2" r="3.9" fill="#6a50ee" opacity="0.97"/>
<circle cx="177.2" cy="848.3" r="3.9" fill="#403ef0" opacity="0.93"/>
<circle cx="179.7" cy="853.9" r="3.6" fill="#4242fc" opacity="0.89"/>
<circle cx="53.7" cy="782.8" r="3.5" fill="#7060e0" opacity="0.86"/>
<circle cx="165.7" cy="781.8" r="3.7" fill="#4a48ff" opacity="0.94"/>
<circle cx="72.9" cy="775.4" r="3.6" fill="#4242fc" opacity="0.90"/>
<circle cx="76.4" cy="783.9" r="4.1" fill="#5840d8" opacity="0.95"/>
<circle cx="119.7" cy="775.7" r="3.8" fill="#4242fc" opacity="0.99"/>
<circle cx="165.6" cy="802.3" r="4.1" fill="#4a48ff" opacity="1.00"/>
<circle cx="219.3" cy="770.7" r="3.8" fill="#6a50ee" opacity="1.00"/>
<circle cx="133.4" cy="776.5" r="3.3" fill="#5a44e6" opacity="0.86"/>
<circle cx="45.2" cy="816.4" r="3.5" fill="#5a44e6" opacity="0.85"/>
<circle cx="110.8" cy="776.6" r="3.5" fill="#5a44e6" opacity="0.88"/>
<circle cx="72.3" cy="781.3" r="4.3" fill="#7a74c8" opacity="0.96"/>
<circle cx="95.5" cy="765.5" r="3.4" fill="#403ef0" opacity="0.89"/>
<circle cx="77.0" cy="796.9" r="4.0" fill="#3a3af4" opacity="0.88"/>
<circle cx="95.2" cy="831.6" r="3.7" fill="#7a74c8" opacity="0.95"/>
<circle cx="134.4" cy="777.2" r="4.3" fill="#7060e0" opacity="0.92"/>
<circle cx="179.5" cy="774.9" r="3.9" fill="#4a48ff" opacity="0.90"/>
<circle cx="112.8" cy="773.7" r="4.2" fill="#6a50ee" opacity="0.90"/>
<circle cx="58.1" cy="788.5" r="3.1" fill="#4242fc" opacity="0.85"/>
<circle cx="201.0" cy="790.5" r="3.1" fill="#5a44e6" opacity="0.90"/>
<circle cx="177.8" cy="855.8" r="4.3" fill="#5840d8" opacity="0.95"/>
<circle cx="214.7" cy="807.5" r="4.5" fill="#6a50ee" opacity="0.86"/>
<circle cx="97.3" cy="809.5" r="3.2" fill="#5840d8" opacity="0.96"/>
<circle cx="130.6" cy="776.2" r="3.6" fill="#4242fc" opacity="0.89"/>
<circle cx="181.2" cy="844.5" r="3.6" fill="#3030d0" opacity="0.94"/>
<circle cx="92.2" cy="765.2" r="3.1" fill="#403ef0" opacity="0.97"/>
<circle cx="171.6" cy="775.6" r="3.2" fill="#5840d8" opacity="0.99"/>
<circle cx="182.3" cy="851.2" r="3.2" fill="#3a3af4" opacity="0.89"/>
<circle cx="171.4" cy="835.3" r="4.4" fill="#4242fc" opacity="0.95"/>
<circle cx="88.6" cy="842.6" r="3.9" fill="#4242fc" opacity="0.98"/>
<circle cx="86.5" cy="857.2" r="3.8" fill="#5840d8" opacity="0.94"/>
<circle cx="169.1" cy="848.8" r="4.1" fill="#5840d8" opacity="0.85"/>
<circle cx="77.0" cy="773.7" r="3.0" fill="#4a48ff" opacity="0.90"/>
<circle cx="116.4" cy="838.8" r="4.3" fill="#6a50ee" opacity="0.96"/>
<circle cx="40.7" cy="826.7" r="4.4" fill="#3030d0" opacity="0.97"/>
<circle cx="158.5" cy="769.5" r="3.2" fill="#3434e4" opacity="0.93"/>
<circle cx="163.5" cy="808.5" r="3.9" fill="#403ef0" opacity="0.99"/>
<circle cx="171.6" cy="772.1" r="3.7" fill="#403ef0" opacity="0.99"/>
<circle cx="176.3" cy="859.6" r="3.3" fill="#7060e0" opacity="0.98"/>
<circle cx="86.0" cy="847.8" r="3.6" fill="#7a74c8" opacity="0.93"/>
<circle cx="158.2" cy="785.9" r="3.3" fill="#4a48ff" opacity="0.95"/>
<circle cx="107.1" cy="794.2" r="3.7" fill="#5840d8" opacity="0.87"/>
<circle cx="87.7" cy="762.9" r="3.5" fill="#5840d8" opacity="0.95"/>
<circle cx="201.7" cy="837.6" r="4.2" fill="#7a74c8" opacity="0.86"/>
<circle cx="196.8" cy="838.3" r="3.7" fill="#7a74c8" opacity="0.86"/>
<circle cx="183.8" cy="850.1" r="3.7" fill="#6a50ee" opacity="0.94"/>
<circle cx="173.2" cy="770.1" r="4.3" fill="#7060e0" opacity="0.86"/>
<circle cx="137.5" cy="775.3" r="3.8" fill="#6a50ee" opacity="0.96"/>
<circle cx="70.1" cy="790.4" r="3.7" fill="#7060e0" opacity="0.93"/>
<circle cx="139.5" cy="774.5" r="4.2" fill="#3030d0" opacity="0.86"/>
<circle cx="144.7" cy="766.2" r="4.3" fill="#7a74c8" opacity="0.87"/>
<circle cx="200.0" cy="821.1" r="3.8" fill="#5840d8" opacity="0.93"/>
<circle cx="68.6" cy="791.3" r="4.5" fill="#7060e0" opacity="0.96"/>
<circle cx="188.7" cy="832.1" r="3.1" fill="#5840d8" opacity="0.90"/>
<circle cx="120.3" cy="861.8" r="4.1" fill="#7a74c8" opacity="1.00"/>
<circle cx="102.1" cy="847.5" r="3.2" fill="#7a74c8" opacity="0.92"/>
<circle cx="140.0" cy="851.8" r="3.1" fill="#5a44e6" opacity="0.85"/>
<circle cx="171.0" cy="812.7" r="3.9" fill="#7060e0" opacity="0.95"/>
<circle cx="161.1" cy="846.0" r="4.5" fill="#7060e0" opacity="0.86"/>
<circle cx="167.2" cy="785.4" r="4.6" fill="#4242fc" opacity="0.97"/>
<circle cx="171.8" cy="783.8" r="4.4" fill="#4a48ff" opacity="0.87"/>
<circle cx="125.4" cy="827.3" r="3.6" fill="#5a44e6" opacity="0.93"/>
<circle cx="87.2" cy="786.5" r="4.4" fill="#3434e4" opacity="0.92"/>
<circle cx="132.6" cy="850.4" r="3.3" fill="#6a50ee" opacity="0.86"/>
<circle cx="57.9" cy="843.1" r="4.0" fill="#5840d8" opacity="0.87"/>
<circle cx="179.0" cy="779.6" r="3.2" fill="#7a74c8" opacity="0.86"/>
<circle cx="76.2" cy="789.2" r="4.3" fill="#403ef0" opacity="1.00"/>
<circle cx="202.4" cy="793.8" r="4.1" fill="#3434e4" opacity="0.96"/>
<circle cx="113.7" cy="790.0" r="3.0" fill="#3434e4" opacity="0.89"/>
<circle cx="213.7" cy="803.1" r="3.4" fill="#5a44e6" opacity="0.90"/>
<circle cx="78.4" cy="770.8" r="4.5" fill="#6a50ee" opacity="0.87"/>
<circle cx="45.1" cy="840.7" r="4.5" fill="#5a44e6" opacity="0.92"/>
<circle cx="217.7" cy="842.1" r="4.0" fill="#3a3af4" opacity="0.97"/>
<circle cx="132.4" cy="782.7" r="3.9" fill="#3434e4" opacity="0.86"/>
<circle cx="188.2" cy="821.9" r="3.8" fill="#4242fc" opacity="0.93"/>
<circle cx="173.7" cy="861.5" r="4.3" fill="#4242fc" opacity="0.96"/>
<circle cx="138.9" cy="795.2" r="3.6" fill="#7a74c8" opacity="0.96"/>
<circle cx="120.9" cy="783.8" r="4.0" fill="#3434e4" opacity="0.99"/>
<circle cx="134.6" cy="848.1" r="3.7" fill="#3434e4" opacity="0.97"/>
<circle cx="189.5" cy="842.4" r="3.3" fill="#6a50ee" opacity="0.91"/>
<circle cx="204.2" cy="853.7" r="3.4" fill="#5a44e6" opacity="0.93"/>
<circle cx="203.1" cy="822.0" r="4.3" fill="#7060e0" opacity="0.94"/>
<circle cx="152.3" cy="785.5" r="3.6" fill="#3a3af4" opacity="0.99"/>
<circle cx="197.1" cy="775.8" r="3.5" fill="#5840d8" opacity="0.97"/>
<circle cx="75.7" cy="799.3" r="4.2" fill="#5a44e6" opacity="0.87"/>
<circle cx="99.6" cy="801.0" r="4.4" fill="#7060e0" opacity="0.98"/>
<circle cx="47.1" cy="847.1" r="4.3" fill="#5a44e6" opacity="0.97"/>
<circle cx="131.2" cy="785.9" r="3.4" fill="#4a48ff" opacity="0.99"/>
<circle cx="73.0" cy="856.9" r="4.2" fill="#7060e0" opacity="0.85"/>
<circle cx="86.8" cy="770.8" r="3.2" fill="#4242fc" opacity="0.92"/>
<circle cx="109.7" cy="854.9" r="4.1" fill="#3030d0" opacity="0.89"/>
<circle cx="126.5" cy="784.5" r="4.3" fill="#5840d8" opacity="0.86"/>
<circle cx="175.1" cy="784.5" r="4.3" fill="#403ef0" opacity="0.93"/>
<circle cx="91.8" cy="795.8" r="4.3" fill="#4a48ff" opacity="0.88"/>
<circle cx="94.0" cy="809.1" r="3.8" fill="#3a3af4" opacity="0.91"/>
<circle cx="93.4" cy="795.1" r="4.4" fill="#7a74c8" opacity="0.96"/>
<circle cx="170.1" cy="819.6" r="3.4" fill="#7a74c8" opacity="0.98"/>
<circle cx="171.6" cy="783.3" r="3.4" fill="#7060e0" opacity="0.89"/>
<circle cx="205.7" cy="805.7" r="4.0" fill="#7060e0" opacity="0.94"/>
<circle cx="164.5" cy="768.5" r="3.2" fill="#7060e0" opacity="0.98"/>
<circle cx="49.5" cy="802.3" r="4.4" fill="#5a44e6" opacity="0.96"/>
<circle cx="114.8" cy="842.6" r="4.5" fill="#3a3af4" opacity="0.89"/>
<circle cx="167.2" cy="784.0" r="4.3" fill="#3030d0" opacity="0.90"/>
<circle cx="175.7" cy="825.1" r="4.1" fill="#6a50ee" opacity="0.85"/>
<circle cx="134.4" cy="827.4" r="3.1" fill="#5840d8" opacity="0.88"/>
<circle cx="212.0" cy="840.2" r="3.1" fill="#6a50ee" opacity="0.92"/>
<circle cx="97.7" cy="861.7" r="3.0" fill="#6a50ee" opacity="0.92"/>
<circle cx="203.4" cy="786.6" r="4.0" fill="#5a44e6" opacity="0.98"/>
<circle cx="151.0" cy="789.0" r="3.2" fill="#4242fc" opacity="0.96"/>
<circle cx="201.4" cy="781.1" r="4.3" fill="#3434e4" opacity="0.98"/>
<circle cx="54.4" cy="789.0" r="3.9" fill="#3a3af4" opacity="0.97"/>
<circle cx="157.5" cy="787.3" r="4.4" fill="#3a3af4" opacity="0.95"/>
<circle cx="110.8" cy="770.5" r="3.2" fill="#3434e4" opacity="0.87"/>
<circle cx="62.0" cy="773.8" r="4.2" fill="#5a44e6" opacity="0.88"/>
<circle cx="111.2" cy="783.5" r="4.1" fill="#3434e4" opacity="0.86"/>
<circle cx="190.6" cy="860.7" r="4.1" fill="#5a44e6" opacity="1.00"/>
<circle cx="117.9" cy="769.0" r="3.1" fill="#5a44e6" opacity="0.90"/>
<circle cx="152.3" cy="770.9" r="4.3" fill="#6a50ee" opacity="0.95"/>
<circle cx="76.0" cy="793.7" r="3.6" fill="#5840d8" opacity="0.97"/>
<circle cx="204.2" cy="774.8" r="3.3" fill="#3a3af4" opacity="0.96"/>
<circle cx="217.8" cy="819.5" r="3.5" fill="#3030d0" opacity="0.90"/>
<circle cx="119.0" cy="769.1" r="4.0" fill="#5a44e6" opacity="0.99"/>
<circle cx="63.8" cy="797.8" r="3.1" fill="#6a50ee" opacity="0.92"/>
<circle cx="189.9" cy="840.4" r="3.8" fill="#3030d0" opacity="0.91"/>
<circle cx="207.5" cy="813.0" r="3.9" fill="#7a74c8" opacity="0.95"/>
<circle cx="42.5" cy="805.8" r="3.9" fill="#5a44e6" opacity="1.00"/>
<circle cx="57.5" cy="779.5" r="3.3" fill="#5840d8" opacity="0.85"/>
<circle cx="152.6" cy="778.5" r="3.2" fill="#5840d8" opacity="0.87"/>
<circle cx="103.0" cy="780.3" r="3.5" fill="#403ef0" opacity="0.90"/>
<circle cx="112.2" cy="788.8" r="3.5" fill="#3434e4" opacity="0.96"/>
<circle cx="101.7" cy="762.2" r="3.7" fill="#4a48ff" opacity="0.97"/>
<circle cx="122.4" cy="783.4" r="4.0" fill="#7a74c8" opacity="0.90"/>
<circle cx="66.8" cy="853.6" r="4.2" fill="#403ef0" opacity="0.90"/>
<circle cx="122.7" cy="762.0" r="4.3" fill="#403ef0" opacity="0.95"/>
<circle cx="176.1" cy="849.1" r="3.4" fill="#5a44e6" opacity="0.97"/>
<circle cx="50.0" cy="849.3" r="4.3" fill="#7060e0" opacity="0.87"/>
<circle cx="181.2" cy="772.0" r="3.4" fill="#3a3af4" opacity="0.99"/>
<circle cx="184.0" cy="837.0" r="4.5" fill="#7a74c8" opacity="0.87"/>
<circle cx="104.9" cy="792.5" r="4.5" fill="#3030d0" opacity="0.99"/>
<circle cx="50.4" cy="777.8" r="3.5" fill="#3030d0" opacity="0.90"/>
<circle cx="155.3" cy="770.7" r="4.5" fill="#3434e4" opacity="0.85"/>
<circle cx="177.0" cy="857.4" r="4.0" fill="#7060e0" opacity="0.97"/>
<circle cx="82.6" cy="842.4" r="4.6" fill="#5840d8" opacity="0.99"/>
<circle cx="158.3" cy="859.7" r="3.9" fill="#3434e4" opacity="0.89"/>
<circle cx="66.6" cy="784.5" r="3.8" fill="#4242fc" opacity="0.93"/>
<circle cx="43.6" cy="838.3" r="3.7" fill="#7a74c8" opacity="0.86"/>
</g>
<g filter="url(#blur2)">
<path d="M 95.0 823.0 L 95.8 825.9 L 96.5 829.1 L 96.6 832.4 L 95.7 835.7 L 93.8 838.6 L 91.0 841.0 L 87.7 842.8 L 84.2 844.1 L 80.8 845.2 L 77.2 846.2 L 73.7 846.9 L 70.0 847.3 L 66.3 847.1 L 62.7 846.3 L 59.4 844.9 L 56.4 843.2 L 53.6 841.3 L 51.0 839.3 L 48.4 837.2 L 46.0 834.9 L 44.0 832.2 L 42.6 829.3 L 41.9 826.2 L 42.0 823.0 L 42.6 819.9 L 43.4 816.9 L 44.5 813.9 L 45.6 810.9 L 47.1 807.9 L 49.2 805.1 L 51.9 802.8 L 55.4 801.3 L 59.1 800.5 L 63.0 800.5 L 66.6 800.8 L 70.0 801.1 L 73.4 801.0 L 77.0 800.7 L 80.9 800.5 L 85.0 800.8 L 88.8 802.0 L 91.9 804.2 L 93.9 807.3 L 94.8 810.7 L 94.8 814.2 L 94.6 817.4 L 94.6 820.2 Z" fill="#668874"/>
<path d="M 89.6 823.0 L 89.5 825.2 L 88.3 827.1 L 86.5 828.7 L 84.5 829.9 L 82.8 831.0 L 81.4 832.2 L 80.2 833.6 L 78.8 835.0 L 77.2 836.2 L 75.1 836.7 L 73.0 836.5 L 71.0 835.7 L 69.3 834.7 L 67.6 834.1 L 65.8 834.1 L 63.5 834.5 L 60.7 834.9 L 57.6 834.9 L 54.9 834.0 L 53.0 832.2 L 52.3 829.9 L 52.7 827.3 L 53.8 825.0 L 54.9 823.0 L 55.7 821.2 L 56.1 819.5 L 56.4 817.7 L 57.1 815.9 L 58.3 814.3 L 60.0 813.3 L 62.2 812.8 L 64.3 812.6 L 66.1 812.4 L 67.6 811.8 L 69.2 810.6 L 71.0 809.1 L 73.3 807.7 L 75.8 807.0 L 78.3 807.4 L 80.3 808.7 L 81.6 810.7 L 82.4 812.9 L 83.1 814.8 L 84.0 816.4 L 85.4 817.7 L 87.1 819.2 L 88.7 820.9 Z" fill="#7050dc" opacity="0.9"/>
<path d="M 95.0 823.0 L 95.8 825.9 L 96.5 829.1 L 96.6 832.4 L 95.7 835.7 L 93.8 838.6 L 91.0 841.0 L 87.7 842.8 L 84.2 844.1 L 80.8 845.2 L 77.2 846.2 L 73.7 846.9 L 70.0 847.3 L 66.3 847.1 L 62.7 846.3 L 59.4 844.9 L 56.4 843.2 L 53.6 841.3 L 51.0 839.3 L 48.4 837.2 L 46.0 834.9 L 44.0 832.2 L 42.6 829.3 L 41.9 826.2 L 42.0 823.0 L 42.6 819.9 L 43.4 816.9 L 44.5 813.9 L 45.6 810.9 L 47.1 807.9 L 49.2 805.1 L 51.9 802.8 L 55.4 801.3 L 59.1 800.5 L 63.0 800.5 L 66.6 800.8 L 70.0 801.1 L 73.4 801.0 L 77.0 800.7 L 80.9 800.5 L 85.0 800.8 L 88.8 802.0 L 91.9 804.2 L 93.9 807.3 L 94.8 810.7 L 94.8 814.2 L 94.6 817.4 L 94.6 820.2 Z" fill="none" stroke="#3edc4a" stroke-width="3.2" stroke-linecap="round" stroke-linejoin="round" opacity="1.0"/>
<path d="M 135.4 810.5 L 134.8 812.8 L 134.2 815.1 L 133.8 817.4 L 133.4 820.0 L 132.8 822.6 L 131.7 825.2 L 130.0 827.4 L 127.7 829.1 L 125.0 829.9 L 122.2 830.0 L 119.5 829.6 L 117.0 829.0 L 114.6 828.4 L 112.3 827.9 L 110.0 827.5 L 107.6 826.8 L 105.2 825.8 L 103.1 824.4 L 101.3 822.6 L 99.9 820.4 L 98.8 818.0 L 98.1 815.6 L 97.6 813.1 L 97.3 810.5 L 97.2 807.9 L 97.6 805.3 L 98.3 802.8 L 99.6 800.4 L 101.2 798.4 L 103.1 796.6 L 105.3 795.2 L 107.5 794.0 L 109.7 793.0 L 112.1 792.2 L 114.5 791.7 L 117.0 791.6 L 119.5 791.7 L 121.9 792.1 L 124.3 792.8 L 126.7 793.6 L 129.1 794.7 L 131.4 796.1 L 133.4 797.9 L 134.9 800.1 L 135.9 802.7 L 136.3 805.3 L 136.0 808.0 Z" fill="#668674"/>
<path d="M 131.2 810.5 L 131.1 812.3 L 130.4 813.9 L 129.3 815.3 L 127.8 816.4 L 126.3 817.1 L 125.0 817.7 L 123.8 818.3 L 122.8 819.1 L 121.8 820.1 L 120.8 821.1 L 119.5 822.2 L 118.0 822.9 L 116.4 823.3 L 114.7 823.1 L 113.2 822.5 L 111.9 821.4 L 110.9 820.1 L 110.0 818.7 L 109.3 817.4 L 108.7 816.1 L 108.0 814.8 L 107.4 813.4 L 107.0 812.0 L 106.7 810.5 L 106.8 809.0 L 107.3 807.5 L 107.9 806.2 L 108.7 805.0 L 109.6 803.8 L 110.4 802.6 L 111.3 801.4 L 112.2 800.1 L 113.4 798.9 L 114.7 797.9 L 116.3 797.3 L 118.0 797.3 L 119.6 797.9 L 121.0 798.9 L 122.1 800.2 L 123.0 801.5 L 123.8 802.7 L 124.6 803.6 L 125.6 804.4 L 126.9 805.2 L 128.3 806.1 L 129.6 807.3 L 130.7 808.8 Z" fill="#5450dc" opacity="0.9"/>
<path d="M 135.4 810.5 L 134.8 812.8 L 134.2 815.1 L 133.8 817.4 L 133.4 820.0 L 132.8 822.6 L 131.7 825.2 L 130.0 827.4 L 127.7 829.1 L 125.0 829.9 L 122.2 830.0 L 119.5 829.6 L 117.0 829.0 L 114.6 828.4 L 112.3 827.9 L 110.0 827.5 L 107.6 826.8 L 105.2 825.8 L 103.1 824.4 L 101.3 822.6 L 99.9 820.4 L 98.8 818.0 L 98.1 815.6 L 97.6 813.1 L 97.3 810.5 L 97.2 807.9 L 97.6 805.3 L 98.3 802.8 L 99.6 800.4 L 101.2 798.4 L 103.1 796.6 L 105.3 795.2 L 107.5 794.0 L 109.7 793.0 L 112.1 792.2 L 114.5 791.7 L 117.0 791.6 L 119.5 791.7 L 121.9 792.1 L 124.3 792.8 L 126.7 793.6 L 129.1 794.7 L 131.4 796.1 L 133.4 797.9 L 134.9 800.1 L 135.9 802.7 L 136.3 805.3 L 136.0 808.0 Z" fill="none" stroke="#3edc4a" stroke-width="3.0" stroke-linecap="round" stroke-linejoin="round" opacity="1.0"/>
<path d="M 203.0 799.6 L 203.4 802.8 L 203.2 806.0 L 202.5 809.1 L 201.3 811.9 L 199.7 814.2 L 198.0 816.1 L 196.1 817.7 L 194.3 819.1 L 192.5 820.5 L 190.6 821.8 L 188.6 822.9 L 186.4 823.6 L 184.2 823.7 L 182.0 823.1 L 179.9 821.8 L 178.1 820.1 L 176.4 818.1 L 175.0 815.9 L 173.7 813.5 L 172.5 811.0 L 171.5 808.4 L 170.7 805.6 L 170.2 802.6 L 169.9 799.6 L 170.0 796.5 L 170.3 793.5 L 170.9 790.5 L 171.8 787.6 L 173.0 785.0 L 174.5 782.7 L 176.3 780.8 L 178.2 779.3 L 180.2 778.1 L 182.2 777.3 L 184.3 776.7 L 186.4 776.2 L 188.6 776.1 L 190.8 776.4 L 192.9 777.2 L 194.9 778.7 L 196.6 780.7 L 198.0 783.1 L 199.1 785.8 L 200.0 788.5 L 200.8 791.1 L 201.6 793.8 L 202.4 796.6 Z" fill="#6a8a78"/>
<path d="M 196.3 799.6 L 196.4 801.3 L 196.3 803.1 L 195.9 804.8 L 195.5 806.5 L 194.9 808.1 L 194.2 809.7 L 193.5 811.3 L 192.5 812.7 L 191.4 813.9 L 190.1 814.5 L 188.7 814.7 L 187.4 814.3 L 186.2 813.5 L 185.0 812.6 L 184.0 811.7 L 183.0 810.8 L 182.0 810.0 L 181.0 809.0 L 180.0 807.9 L 179.2 806.6 L 178.6 805.0 L 178.1 803.3 L 177.7 801.5 L 177.5 799.6 L 177.4 797.7 L 177.4 795.6 L 177.7 793.7 L 178.4 791.9 L 179.4 790.5 L 180.6 789.6 L 182.0 789.2 L 183.2 789.0 L 184.4 788.8 L 185.3 788.3 L 186.3 787.4 L 187.4 786.2 L 188.7 785.1 L 190.2 784.4 L 191.7 784.4 L 193.0 785.3 L 194.1 786.8 L 194.7 788.8 L 195.1 790.9 L 195.3 792.8 L 195.6 794.6 L 195.8 796.3 L 196.1 797.9 Z" fill="#7a4ad6" opacity="0.9"/>
<path d="M 203.0 799.6 L 203.4 802.8 L 203.2 806.0 L 202.5 809.1 L 201.3 811.9 L 199.7 814.2 L 198.0 816.1 L 196.1 817.7 L 194.3 819.1 L 192.5 820.5 L 190.6 821.8 L 188.6 822.9 L 186.4 823.6 L 184.2 823.7 L 182.0 823.1 L 179.9 821.8 L 178.1 820.1 L 176.4 818.1 L 175.0 815.9 L 173.7 813.5 L 172.5 811.0 L 171.5 808.4 L 170.7 805.6 L 170.2 802.6 L 169.9 799.6 L 170.0 796.5 L 170.3 793.5 L 170.9 790.5 L 171.8 787.6 L 173.0 785.0 L 174.5 782.7 L 176.3 780.8 L 178.2 779.3 L 180.2 778.1 L 182.2 777.3 L 184.3 776.7 L 186.4 776.2 L 188.6 776.1 L 190.8 776.4 L 192.9 777.2 L 194.9 778.7 L 196.6 780.7 L 198.0 783.1 L 199.1 785.8 L 200.0 788.5 L 200.8 791.1 L 201.6 793.8 L 202.4 796.6 Z" fill="none" stroke="#3edc4a" stroke-width="2.8" stroke-linecap="round" stroke-linejoin="round" opacity="1.0"/>
<path d="M 36 848 L 42 840 L 50 830 L 46 842 Z" fill="#e4e2ee" stroke="#e4e2ee" stroke-width="3.0" stroke-linecap="round" stroke-linejoin="round" opacity="0.9"/>
<path d="M 143 822 Q 146 811 156 806 Q 166 805 172 811 Q 177 818 172 826 Q 162 830 152 828 Q 146 827 143 822 Z" fill="#e6e2f6" stroke="#e6e2f6" stroke-width="2.5" stroke-linecap="round" stroke-linejoin="round" opacity="0.95"/>
<path d="M 150 830 Q 162 834 172 832 L 176 850 L 150 852 Z" fill="#8884b8" stroke="#8884b8" stroke-width="2" stroke-linecap="round" stroke-linejoin="round" opacity="0.6"/>
<path d="M 150 826 L 140 834" fill="none" stroke="#c8c4dc" stroke-width="3" stroke-linecap="round" stroke-linejoin="round" opacity="0.7"/>
<path d="M 160 826 L 155 850" fill="none" stroke="#9a98c0" stroke-width="4" stroke-linecap="round" stroke-linejoin="round" opacity="0.5"/>
</g>
<line x1="205.0" y1="856.2" x2="218.5" y2="856.2" stroke="#fff" stroke-width="1.2"/>
</g>
<rect x="34.3" y="765.1" width="186.7" height="93.6" fill="none" stroke="#111" stroke-width="1"/>
<rect x="0.5" y="0.5" width="519" height="867" fill="none" stroke="#1a1a1a" stroke-width="1"/>
</svg>
</body></html>
